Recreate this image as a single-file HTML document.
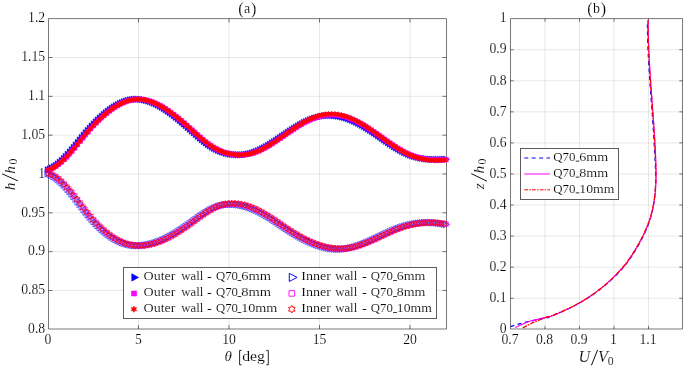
<!DOCTYPE html><html><head><meta charset="utf-8"><style>html,body{margin:0;padding:0;background:#fff;width:685px;height:368px;overflow:hidden}svg{display:block;will-change:transform}text{font-family:"Liberation Serif",serif;fill:#000;stroke:#fff;stroke-width:0.15px}.i{font-style:italic}</style></head><body>
<svg width="685" height="368" viewBox="0 0 685 368">
<path d="M138.50,18.60V329.00M229.00,18.60V329.00M319.50,18.60V329.00M410.00,18.60V329.00M48.50,290.47H446.50M48.50,251.64H446.50M48.50,212.81H446.50M48.50,173.98H446.50M48.50,135.16H446.50M48.50,96.33H446.50M48.50,57.50H446.50M545.00,18.60V329.00M579.50,18.60V329.00M614.00,18.60V329.00M648.50,18.60V329.00M510.50,298.24H682.50M510.50,267.17H682.50M510.50,236.11H682.50M510.50,205.05H682.50M510.50,173.99H682.50M510.50,142.92H682.50M510.50,111.86H682.50M510.50,80.80H682.50M510.50,49.73H682.50" stroke="#262626" stroke-opacity="0.107" stroke-width="1" fill="none"/>
<path d="M48.50,18.60H446.50V329.00H48.50ZM510.50,18.60H682.50V329.00H510.50ZM138.50,18.60v4.0M138.50,329.00v-4.0M229.00,18.60v4.0M229.00,329.00v-4.0M319.50,18.60v4.0M319.50,329.00v-4.0M410.00,18.60v4.0M410.00,329.00v-4.0M48.50,290.47h4.0M446.50,290.47h-4.0M48.50,251.64h4.0M446.50,251.64h-4.0M48.50,212.81h4.0M446.50,212.81h-4.0M48.50,173.98h4.0M446.50,173.98h-4.0M48.50,135.16h4.0M446.50,135.16h-4.0M48.50,96.33h4.0M446.50,96.33h-4.0M48.50,57.50h4.0M446.50,57.50h-4.0M545.00,18.60v3.2M545.00,329.00v-3.2M579.50,18.60v3.2M579.50,329.00v-3.2M614.00,18.60v3.2M614.00,329.00v-3.2M648.50,18.60v3.2M648.50,329.00v-3.2M510.50,298.24h3.2M682.50,298.24h-3.2M510.50,267.17h3.2M682.50,267.17h-3.2M510.50,236.11h3.2M682.50,236.11h-3.2M510.50,205.05h3.2M682.50,205.05h-3.2M510.50,173.99h3.2M682.50,173.99h-3.2M510.50,142.92h3.2M682.50,142.92h-3.2M510.50,111.86h3.2M682.50,111.86h-3.2M510.50,80.80h3.2M682.50,80.80h-3.2M510.50,49.73h3.2M682.50,49.73h-3.2" stroke="#262626" stroke-width="1" fill="none" stroke-opacity="0.62"/>
<path fill="#0000ff" stroke="#0000ff" stroke-width="0.5" d="M45.10 166.66L51.20 169.96L45.10 173.26ZM47.10 165.77L53.20 169.07L47.10 172.37ZM49.10 164.73L55.20 168.03L49.10 171.33ZM51.10 163.54L57.20 166.84L51.10 170.14ZM53.11 162.19L59.21 165.49L53.11 168.79ZM55.11 160.70L61.21 164.00L55.11 167.30ZM57.11 159.05L63.21 162.35L57.11 165.65ZM59.11 157.26L65.21 160.56L59.11 163.86ZM61.11 155.33L67.21 158.63L61.11 161.93ZM63.11 153.28L69.21 156.58L63.11 159.88ZM65.12 151.12L71.22 154.42L65.12 157.72ZM67.12 148.87L73.22 152.17L67.12 155.47ZM69.12 146.55L75.22 149.85L69.12 153.15ZM71.12 144.16L77.22 147.46L71.12 150.76ZM73.12 141.73L79.22 145.03L73.12 148.33ZM75.12 139.28L81.22 142.58L75.12 145.88ZM77.12 136.81L83.22 140.11L77.12 143.41ZM79.13 134.36L85.23 137.66L79.13 140.96ZM81.13 131.93L87.23 135.23L81.13 138.53ZM83.13 129.55L89.23 132.85L83.13 136.15ZM85.13 127.23L91.23 130.53L85.13 133.83ZM87.13 124.98L93.23 128.28L87.13 131.58ZM89.13 122.81L95.23 126.11L89.13 129.41ZM91.13 120.72L97.23 124.02L91.13 127.32ZM93.14 118.68L99.24 121.98L93.14 125.28ZM95.14 116.72L101.24 120.02L95.14 123.32ZM97.14 114.82L103.24 118.12L97.14 121.42ZM99.14 113.00L105.24 116.30L99.14 119.60ZM101.14 111.25L107.24 114.55L101.14 117.85ZM103.14 109.58L109.24 112.88L103.14 116.18ZM105.15 108.00L111.25 111.30L105.15 114.60ZM107.15 106.50L113.25 109.80L107.15 113.10ZM109.15 105.08L115.25 108.38L109.15 111.68ZM111.15 103.76L117.25 107.06L111.15 110.36ZM113.15 102.53L119.25 105.83L113.15 109.13ZM115.15 101.39L121.25 104.69L115.15 107.99ZM117.15 100.35L123.25 103.65L117.15 106.95ZM119.16 99.42L125.26 102.72L119.16 106.02ZM121.16 98.59L127.26 101.89L121.16 105.19ZM123.16 97.87L129.26 101.17L123.16 104.47ZM125.16 97.25L131.26 100.55L125.16 103.85ZM127.16 96.75L133.26 100.05L127.16 103.35ZM129.16 96.37L135.26 99.67L129.16 102.97ZM131.16 96.11L137.26 99.41L131.16 102.71ZM133.17 95.96L139.27 99.26L133.17 102.56ZM135.17 95.95L141.27 99.25L135.17 102.55ZM137.17 96.05L143.27 99.35L137.17 102.65ZM139.17 96.27L145.27 99.57L139.17 102.87ZM141.17 96.60L147.27 99.90L141.17 103.20ZM143.17 97.04L149.27 100.34L143.17 103.64ZM145.18 97.58L151.28 100.88L145.18 104.18ZM147.18 98.23L153.28 101.53L147.18 104.83ZM149.18 98.97L155.28 102.27L149.18 105.57ZM151.18 99.80L157.28 103.10L151.18 106.40ZM153.18 100.73L159.28 104.03L153.18 107.33ZM155.18 101.73L161.28 105.03L155.18 108.33ZM157.18 102.82L163.28 106.12L157.18 109.42ZM159.19 103.98L165.29 107.28L159.19 110.58ZM161.19 105.21L167.29 108.51L161.19 111.81ZM163.19 106.51L169.29 109.81L163.19 113.11ZM165.19 107.87L171.29 111.17L165.19 114.47ZM167.19 109.29L173.29 112.59L167.19 115.89ZM169.19 110.76L175.29 114.06L169.19 117.36ZM171.19 112.29L177.29 115.59L171.19 118.89ZM173.20 113.86L179.30 117.16L173.20 120.46ZM175.20 115.48L181.30 118.78L175.20 122.08ZM177.20 117.13L183.30 120.43L177.20 123.73ZM179.20 118.82L185.30 122.12L179.20 125.42ZM181.20 120.54L187.30 123.84L181.20 127.14ZM183.20 122.28L189.30 125.58L183.20 128.88ZM185.21 124.04L191.31 127.34L185.21 130.64ZM187.21 125.83L193.31 129.13L187.21 132.43ZM189.21 127.62L195.31 130.92L189.21 134.22ZM191.21 129.42L197.31 132.72L191.21 136.02ZM193.21 131.21L199.31 134.51L193.21 137.81ZM195.21 132.98L201.31 136.28L195.21 139.58ZM197.21 134.72L203.31 138.02L197.21 141.32ZM199.22 136.41L205.32 139.71L199.22 143.01ZM201.22 138.04L207.32 141.34L201.22 144.64ZM203.22 139.61L209.32 142.91L203.22 146.21ZM205.22 141.09L211.32 144.39L205.22 147.69ZM207.22 142.48L213.32 145.78L207.22 149.08ZM209.22 143.76L215.32 147.06L209.22 150.36ZM211.23 144.94L217.33 148.24L211.23 151.54ZM213.23 146.01L219.33 149.31L213.23 152.61ZM215.23 146.97L221.33 150.27L215.23 153.57ZM217.23 147.84L223.33 151.14L217.23 154.44ZM219.23 148.60L225.33 151.90L219.23 155.20ZM221.23 149.27L227.33 152.57L221.23 155.87ZM223.23 149.84L229.33 153.14L223.23 156.44ZM225.24 150.33L231.34 153.63L225.24 156.93ZM227.24 150.72L233.34 154.02L227.24 157.32ZM229.24 151.04L235.34 154.34L229.24 157.64ZM231.24 151.27L237.34 154.57L231.24 157.87ZM233.24 151.43L239.34 154.73L233.24 158.03ZM235.24 151.52L241.34 154.82L235.24 158.12ZM237.24 151.54L243.34 154.84L237.24 158.14ZM239.25 151.48L245.35 154.78L239.25 158.08ZM241.25 151.34L247.35 154.64L241.25 157.94ZM243.25 151.11L249.35 154.41L243.25 157.71ZM245.25 150.76L251.35 154.06L245.25 157.36ZM247.25 150.30L253.35 153.60L247.25 156.90ZM249.25 149.73L255.35 153.03L249.25 156.33ZM251.26 149.07L257.36 152.37L251.26 155.67ZM253.26 148.32L259.36 151.62L253.26 154.92ZM255.26 147.48L261.36 150.78L255.26 154.08ZM257.26 146.56L263.36 149.86L257.26 153.16ZM259.26 145.57L265.36 148.87L259.26 152.17ZM261.26 144.51L267.36 147.81L261.26 151.11ZM263.26 143.40L269.36 146.70L263.26 150.00ZM265.27 142.23L271.37 145.53L265.27 148.83ZM267.27 141.01L273.37 144.31L267.27 147.61ZM269.27 139.76L275.37 143.06L269.27 146.36ZM271.27 138.47L277.37 141.77L271.27 145.07ZM273.27 137.15L279.37 140.45L273.27 143.75ZM275.27 135.81L281.37 139.11L275.27 142.41ZM277.27 134.46L283.37 137.76L277.27 141.06ZM279.28 133.10L285.38 136.40L279.28 139.70ZM281.28 131.74L287.38 135.04L281.28 138.34ZM283.28 130.38L289.38 133.68L283.28 136.98ZM285.28 129.03L291.38 132.33L285.28 135.63ZM287.28 127.70L293.38 131.00L287.28 134.30ZM289.28 126.40L295.38 129.70L289.28 133.00ZM291.29 125.12L297.39 128.42L291.29 131.72ZM293.29 123.88L299.39 127.18L293.29 130.48ZM295.29 122.68L301.39 125.98L295.29 129.28ZM297.29 121.52L303.39 124.82L297.29 128.12ZM299.29 120.41L305.39 123.71L299.29 127.01ZM301.29 119.37L307.39 122.67L301.29 125.97ZM303.29 118.38L309.39 121.68L303.29 124.98ZM305.30 117.46L311.40 120.76L305.30 124.06ZM307.30 116.61L313.40 119.91L307.30 123.21ZM309.30 115.82L315.40 119.12L309.30 122.42ZM311.30 115.11L317.40 118.41L311.30 121.71ZM313.30 114.47L319.40 117.77L313.30 121.07ZM315.30 113.90L321.40 117.20L315.30 120.50ZM317.31 113.41L323.41 116.71L317.31 120.01ZM319.31 113.00L325.41 116.30L319.31 119.60ZM321.31 112.67L327.41 115.97L321.31 119.27ZM323.31 112.43L329.41 115.73L323.31 119.03ZM325.31 112.27L331.41 115.57L325.31 118.87ZM327.31 112.20L333.41 115.50L327.31 118.80ZM329.31 112.22L335.41 115.52L329.31 118.82ZM331.32 112.33L337.42 115.63L331.32 118.93ZM333.32 112.53L339.42 115.83L333.32 119.13ZM335.32 112.82L341.42 116.12L335.32 119.42ZM337.32 113.18L343.42 116.48L337.32 119.78ZM339.32 113.63L345.42 116.93L339.32 120.23ZM341.32 114.16L347.42 117.46L341.32 120.76ZM343.32 114.76L349.42 118.06L343.32 121.36ZM345.33 115.43L351.43 118.73L345.33 122.03ZM347.33 116.18L353.43 119.48L347.33 122.78ZM349.33 116.99L355.43 120.29L349.33 123.59ZM351.33 117.87L357.43 121.17L351.33 124.47ZM353.33 118.81L359.43 122.11L353.33 125.41ZM355.33 119.81L361.43 123.11L355.33 126.41ZM357.34 120.87L363.44 124.17L357.34 127.47ZM359.34 121.99L365.44 125.29L359.34 128.59ZM361.34 123.16L367.44 126.46L361.34 129.76ZM363.34 124.38L369.44 127.68L363.34 130.98ZM365.34 125.63L371.44 128.93L365.34 132.23ZM367.34 126.93L373.44 130.23L367.34 133.53ZM369.34 128.26L375.44 131.56L369.34 134.86ZM371.35 129.61L377.45 132.91L371.35 136.21ZM373.35 130.98L379.45 134.28L373.35 137.58ZM375.35 132.37L381.45 135.67L375.35 138.97ZM377.35 133.76L383.45 137.06L377.35 140.36ZM379.35 135.16L385.45 138.46L379.35 141.76ZM381.35 136.56L387.45 139.86L381.35 143.16ZM383.35 137.95L389.45 141.25L383.35 144.55ZM385.36 139.32L391.46 142.62L385.36 145.92ZM387.36 140.68L393.46 143.98L387.36 147.28ZM389.36 142.00L395.46 145.30L389.36 148.60ZM391.36 143.29L397.46 146.59L391.36 149.89ZM393.36 144.55L399.46 147.85L393.36 151.15ZM395.36 145.75L401.46 149.05L395.36 152.35ZM397.37 146.91L403.47 150.21L397.37 153.51ZM399.37 148.00L405.47 151.30L399.37 154.60ZM401.37 149.03L407.47 152.33L401.37 155.63ZM403.37 150.00L409.47 153.30L403.37 156.60ZM405.37 150.88L411.47 154.18L405.37 157.48ZM407.37 151.69L413.47 154.99L407.37 158.29ZM409.37 152.42L415.47 155.72L409.37 159.02ZM411.38 153.07L417.48 156.37L411.38 159.67ZM413.38 153.65L419.48 156.95L413.38 160.25ZM415.38 154.16L421.48 157.46L415.38 160.76ZM417.38 154.61L423.48 157.91L417.38 161.21ZM419.38 154.99L425.48 158.29L419.38 161.59ZM421.38 155.32L427.48 158.62L421.38 161.92ZM423.38 155.59L429.48 158.89L423.38 162.19ZM425.39 155.81L431.49 159.11L425.39 162.41ZM427.39 155.98L433.49 159.28L427.39 162.58ZM429.39 156.11L435.49 159.41L429.39 162.71ZM431.39 156.20L437.49 159.50L431.39 162.80ZM433.39 156.24L439.49 159.54L433.39 162.84ZM435.39 156.24L441.49 159.54L435.39 162.84ZM437.40 156.21L443.50 159.51L437.40 162.81ZM439.40 156.13L445.50 159.43L439.40 162.73ZM441.40 156.02L447.50 159.32L441.40 162.62ZM443.40 155.88L449.50 159.18L443.40 162.48Z"/>
<path fill="#ff00ff" stroke="#ff00ff" stroke-width="0.5" d="M45.70 168.04L50.30 168.04L50.30 172.64L45.70 172.64ZM48.37 166.93L52.97 166.93L52.97 171.53L48.37 171.53ZM51.04 165.54L55.64 165.54L55.64 170.14L51.04 170.14ZM53.71 163.88L58.31 163.88L58.31 168.48L53.71 168.48ZM56.38 161.95L60.98 161.95L60.98 166.55L56.38 166.55ZM59.06 159.75L63.66 159.75L63.66 164.35L59.06 164.35ZM61.73 157.30L66.33 157.30L66.33 161.90L61.73 161.90ZM64.40 154.61L69.00 154.61L69.00 159.21L64.40 159.21ZM67.07 151.73L71.67 151.73L71.67 156.33L67.07 156.33ZM69.74 148.69L74.34 148.69L74.34 153.29L69.74 153.29ZM72.41 145.53L77.01 145.53L77.01 150.13L72.41 150.13ZM75.08 142.29L79.68 142.29L79.68 146.89L75.08 146.89ZM77.75 139.01L82.35 139.01L82.35 143.61L77.75 143.61ZM80.42 135.72L85.02 135.72L85.02 140.32L80.42 140.32ZM83.10 132.49L87.70 132.49L87.70 137.09L83.10 137.09ZM85.77 129.33L90.37 129.33L90.37 133.93L85.77 133.93ZM88.44 126.31L93.04 126.31L93.04 130.91L88.44 130.91ZM91.11 123.41L95.71 123.41L95.71 128.01L91.11 128.01ZM93.78 120.64L98.38 120.64L98.38 125.24L93.78 125.24ZM96.45 117.99L101.05 117.99L101.05 122.59L96.45 122.59ZM99.12 115.47L103.72 115.47L103.72 120.07L99.12 120.07ZM101.79 113.07L106.39 113.07L106.39 117.67L101.79 117.67ZM104.47 110.81L109.07 110.81L109.07 115.41L104.47 115.41ZM107.14 108.70L111.74 108.70L111.74 113.30L107.14 113.30ZM109.81 106.74L114.41 106.74L114.41 111.34L109.81 111.34ZM112.48 104.93L117.08 104.93L117.08 109.53L112.48 109.53ZM115.15 103.29L119.75 103.29L119.75 107.89L115.15 107.89ZM117.82 101.83L122.42 101.83L122.42 106.43L117.82 106.43ZM120.49 100.54L125.09 100.54L125.09 105.14L120.49 105.14ZM123.16 99.43L127.76 99.43L127.76 104.03L123.16 104.03ZM125.83 98.52L130.43 98.52L130.43 103.12L125.83 103.12ZM128.51 97.81L133.11 97.81L133.11 102.41L128.51 102.41ZM131.18 97.31L135.78 97.31L135.78 101.91L131.18 101.91ZM133.85 97.01L138.45 97.01L138.45 101.61L133.85 101.61ZM136.52 96.94L141.12 96.94L141.12 101.54L136.52 101.54ZM139.19 97.08L143.79 97.08L143.79 101.68L139.19 101.68ZM141.86 97.43L146.46 97.43L146.46 102.03L141.86 102.03ZM144.53 97.98L149.13 97.98L149.13 102.58L144.53 102.58ZM147.20 98.71L151.80 98.71L151.80 103.31L147.20 103.31ZM149.87 99.62L154.47 99.62L154.47 104.22L149.87 104.22ZM152.55 100.70L157.15 100.70L157.15 105.30L152.55 105.30ZM155.22 101.94L159.82 101.94L159.82 106.54L155.22 106.54ZM157.89 103.32L162.49 103.32L162.49 107.92L157.89 107.92ZM160.56 104.84L165.16 104.84L165.16 109.44L160.56 109.44ZM163.23 106.49L167.83 106.49L167.83 111.09L163.23 111.09ZM165.90 108.26L170.50 108.26L170.50 112.86L165.90 112.86ZM168.57 110.13L173.17 110.13L173.17 114.73L168.57 114.73ZM171.24 112.10L175.84 112.10L175.84 116.70L171.24 116.70ZM173.91 114.16L178.51 114.16L178.51 118.76L173.91 118.76ZM176.59 116.30L181.19 116.30L181.19 120.90L176.59 120.90ZM179.26 118.51L183.86 118.51L183.86 123.11L179.26 123.11ZM181.93 120.78L186.53 120.78L186.53 125.38L181.93 125.38ZM184.60 123.10L189.20 123.10L189.20 127.70L184.60 127.70ZM187.27 125.46L191.87 125.46L191.87 130.06L187.27 130.06ZM189.94 127.84L194.54 127.84L194.54 132.44L189.94 132.44ZM192.61 130.24L197.21 130.24L197.21 134.84L192.61 134.84ZM195.28 132.63L199.88 132.63L199.88 137.23L195.28 137.23ZM197.96 134.98L202.56 134.98L202.56 139.58L197.96 139.58ZM200.63 137.25L205.23 137.25L205.23 141.85L200.63 141.85ZM203.30 139.43L207.90 139.43L207.90 144.03L203.30 144.03ZM205.97 141.47L210.57 141.47L210.57 146.07L205.97 146.07ZM208.64 143.36L213.24 143.36L213.24 147.96L208.64 147.96ZM211.31 145.06L215.91 145.06L215.91 149.66L211.31 149.66ZM213.98 146.57L218.58 146.57L218.58 151.17L213.98 151.17ZM216.65 147.89L221.25 147.89L221.25 152.49L216.65 152.49ZM219.32 149.03L223.92 149.03L223.92 153.63L219.32 153.63ZM222.00 150.00L226.60 150.00L226.60 154.60L222.00 154.60ZM224.67 150.80L229.27 150.80L229.27 155.40L224.67 155.40ZM227.34 151.43L231.94 151.43L231.94 156.03L227.34 156.03ZM230.01 151.92L234.61 151.92L234.61 156.52L230.01 156.52ZM232.68 152.26L237.28 152.26L237.28 156.86L232.68 156.86ZM235.35 152.46L239.95 152.46L239.95 157.06L235.35 157.06ZM238.02 152.54L242.62 152.54L242.62 157.14L238.02 157.14ZM240.69 152.49L245.29 152.49L245.29 157.09L240.69 157.09ZM243.36 152.29L247.96 152.29L247.96 156.89L243.36 156.89ZM246.04 151.91L250.64 151.91L250.64 156.51L246.04 156.51ZM248.71 151.33L253.31 151.33L253.31 155.93L248.71 155.93ZM251.38 150.56L255.98 150.56L255.98 155.16L251.38 155.16ZM254.05 149.62L258.65 149.62L258.65 154.22L254.05 154.22ZM256.72 148.53L261.32 148.53L261.32 153.13L256.72 153.13ZM259.39 147.29L263.99 147.29L263.99 151.89L259.39 151.89ZM262.06 145.93L266.66 145.93L266.66 150.53L262.06 150.53ZM264.73 144.45L269.33 144.45L269.33 149.05L264.73 149.05ZM267.40 142.87L272.00 142.87L272.00 147.47L267.40 147.47ZM270.08 141.22L274.68 141.22L274.68 145.82L270.08 145.82ZM272.75 139.49L277.35 139.49L277.35 144.09L272.75 144.09ZM275.42 137.72L280.02 137.72L280.02 142.32L275.42 142.32ZM278.09 135.90L282.69 135.90L282.69 140.50L278.09 140.50ZM280.76 134.07L285.36 134.07L285.36 138.67L280.76 138.67ZM283.43 132.22L288.03 132.22L288.03 136.82L283.43 136.82ZM286.10 130.39L290.70 130.39L290.70 134.99L286.10 134.99ZM288.77 128.57L293.37 128.57L293.37 133.17L288.77 133.17ZM291.44 126.79L296.04 126.79L296.04 131.39L291.44 131.39ZM294.12 125.07L298.72 125.07L298.72 129.67L294.12 129.67ZM296.79 123.40L301.39 123.40L301.39 128.00L296.79 128.00ZM299.46 121.82L304.06 121.82L304.06 126.42L299.46 126.42ZM302.13 120.33L306.73 120.33L306.73 124.93L302.13 124.93ZM304.80 118.94L309.40 118.94L309.40 123.54L304.80 123.54ZM307.47 117.67L312.07 117.67L312.07 122.27L307.47 122.27ZM310.14 116.52L314.74 116.52L314.74 121.12L310.14 121.12ZM312.81 115.50L317.41 115.50L317.41 120.10L312.81 120.10ZM315.49 114.62L320.09 114.62L320.09 119.22L315.49 119.22ZM318.16 113.87L322.76 113.87L322.76 118.47L318.16 118.47ZM320.83 113.27L325.43 113.27L325.43 117.87L320.83 117.87ZM323.50 112.82L328.10 112.82L328.10 117.42L323.50 117.42ZM326.17 112.53L330.77 112.53L330.77 117.13L326.17 117.13ZM328.84 112.40L333.44 112.40L333.44 117.00L328.84 117.00ZM331.51 112.44L336.11 112.44L336.11 117.04L331.51 117.04ZM334.18 112.66L338.78 112.66L338.78 117.26L334.18 117.26ZM336.85 113.04L341.45 113.04L341.45 117.64L336.85 117.64ZM339.53 113.57L344.13 113.57L344.13 118.17L339.53 118.17ZM342.20 114.25L346.80 114.25L346.80 118.85L342.20 118.85ZM344.87 115.08L349.47 115.08L349.47 119.68L344.87 119.68ZM347.54 116.03L352.14 116.03L352.14 120.63L347.54 120.63ZM350.21 117.12L354.81 117.12L354.81 121.72L350.21 121.72ZM352.88 118.33L357.48 118.33L357.48 122.93L352.88 122.93ZM355.55 119.65L360.15 119.65L360.15 124.25L355.55 124.25ZM358.22 121.08L362.82 121.08L362.82 125.68L358.22 125.68ZM360.89 122.61L365.49 122.61L365.49 127.21L360.89 127.21ZM363.57 124.22L368.17 124.22L368.17 128.82L363.57 128.82ZM366.24 125.92L370.84 125.92L370.84 130.52L366.24 130.52ZM368.91 127.68L373.51 127.68L373.51 132.28L368.91 132.28ZM371.58 129.49L376.18 129.49L376.18 134.09L371.58 134.09ZM374.25 131.34L378.85 131.34L378.85 135.94L374.25 135.94ZM376.92 133.22L381.52 133.22L381.52 137.82L376.92 137.82ZM379.59 135.11L384.19 135.11L384.19 139.71L379.59 139.71ZM382.26 137.00L386.86 137.00L386.86 141.60L382.26 141.60ZM384.93 138.88L389.53 138.88L389.53 143.48L384.93 143.48ZM387.61 140.73L392.21 140.73L392.21 145.33L387.61 145.33ZM390.28 142.54L394.88 142.54L394.88 147.14L390.28 147.14ZM392.95 144.29L397.55 144.29L397.55 148.89L392.95 148.89ZM395.62 145.97L400.22 145.97L400.22 150.57L395.62 150.57ZM398.29 147.57L402.89 147.57L402.89 152.17L398.29 152.17ZM400.96 149.08L405.56 149.08L405.56 153.68L400.96 153.68ZM403.63 150.47L408.23 150.47L408.23 155.07L403.63 155.07ZM406.30 151.73L410.90 151.73L410.90 156.33L406.30 156.33ZM408.98 152.86L413.58 152.86L413.58 157.46L408.98 157.46ZM411.65 153.85L416.25 153.85L416.25 158.45L411.65 158.45ZM414.32 154.71L418.92 154.71L418.92 159.31L414.32 159.31ZM416.99 155.45L421.59 155.45L421.59 160.05L416.99 160.05ZM419.66 156.06L424.26 156.06L424.26 160.66L419.66 160.66ZM422.33 156.57L426.93 156.57L426.93 161.17L422.33 161.17ZM425.00 156.97L429.60 156.97L429.60 161.57L425.00 161.57ZM427.67 157.27L432.27 157.27L432.27 161.87L427.67 161.87ZM430.34 157.48L434.94 157.48L434.94 162.08L430.34 162.08ZM433.02 157.60L437.62 157.60L437.62 162.20L433.02 162.20ZM435.69 157.64L440.29 157.64L440.29 162.24L435.69 162.24ZM438.36 157.60L442.96 157.60L442.96 162.20L438.36 162.20ZM441.03 157.48L445.63 157.48L445.63 162.08L441.03 162.08ZM443.70 157.30L448.30 157.30L448.30 161.90L443.70 161.90Z"/>
<path fill="#ff0000" stroke="#ff0000" stroke-width="0.5" d="M48.00 167.38L47.18 168.81L45.53 168.81L46.36 170.23L45.53 171.66L47.18 171.66L48.00 173.08L48.82 171.66L50.47 171.66L49.64 170.23L50.47 168.81L48.82 168.81ZM51.22 165.96L50.40 167.39L48.76 167.39L49.58 168.81L48.76 170.24L50.40 170.24L51.22 171.66L52.05 170.24L53.69 170.24L52.87 168.81L53.69 167.39L52.05 167.39ZM54.45 164.15L53.62 165.57L51.98 165.57L52.80 167.00L51.98 168.42L53.62 168.42L54.45 169.85L55.27 168.42L56.92 168.42L56.09 167.00L56.92 165.57L55.27 165.57ZM57.67 161.94L56.85 163.37L55.20 163.36L56.03 164.79L55.20 166.21L56.85 166.21L57.67 167.64L58.49 166.21L60.14 166.21L59.32 164.79L60.14 163.36L58.49 163.37ZM60.89 159.34L60.07 160.77L58.43 160.77L59.25 162.19L58.43 163.62L60.07 163.62L60.89 165.04L61.72 163.62L63.36 163.62L62.54 162.19L63.36 160.77L61.72 160.77ZM64.12 156.37L63.30 157.79L61.65 157.79L62.47 159.22L61.65 160.64L63.30 160.64L64.12 162.07L64.94 160.64L66.59 160.64L65.76 159.22L66.59 157.79L64.94 157.79ZM67.34 153.06L66.52 154.49L64.87 154.49L65.70 155.91L64.87 157.34L66.52 157.34L67.34 158.76L68.16 157.34L69.81 157.34L68.99 155.91L69.81 154.49L68.16 154.49ZM70.57 149.49L69.74 150.92L68.10 150.92L68.92 152.34L68.10 153.77L69.74 153.77L70.57 155.19L71.39 153.77L73.03 153.77L72.21 152.34L73.03 150.92L71.39 150.92ZM73.79 145.73L72.97 147.15L71.32 147.15L72.14 148.58L71.32 150.00L72.97 150.00L73.79 151.43L74.61 150.00L76.26 150.00L75.43 148.58L76.26 147.15L74.61 147.15ZM77.01 141.83L76.19 143.25L74.54 143.25L75.37 144.68L74.54 146.10L76.19 146.10L77.01 147.53L77.83 146.10L79.48 146.10L78.66 144.68L79.48 143.25L77.83 143.25ZM80.24 137.86L79.41 139.29L77.77 139.29L78.59 140.71L77.77 142.14L79.41 142.14L80.24 143.56L81.06 142.14L82.70 142.14L81.88 140.71L82.70 139.29L81.06 139.29ZM83.46 133.91L82.64 135.34L80.99 135.34L81.81 136.76L80.99 138.19L82.64 138.19L83.46 139.61L84.28 138.19L85.93 138.19L85.10 136.76L85.93 135.34L84.28 135.34ZM86.68 130.05L85.86 131.48L84.21 131.47L85.04 132.90L84.21 134.32L85.86 134.32L86.68 135.75L87.51 134.32L89.15 134.32L88.33 132.90L89.15 131.47L87.51 131.48ZM89.91 126.35L89.08 127.77L87.44 127.77L88.26 129.20L87.44 130.62L89.08 130.62L89.91 132.05L90.73 130.62L92.37 130.62L91.55 129.20L92.37 127.77L90.73 127.77ZM93.13 122.84L92.31 124.27L90.66 124.27L91.49 125.69L90.66 127.12L92.31 127.12L93.13 128.54L93.95 127.12L95.60 127.12L94.77 125.69L95.60 124.27L93.95 124.27ZM96.35 119.52L95.53 120.94L93.89 120.94L94.71 122.37L93.89 123.79L95.53 123.79L96.35 125.22L97.18 123.79L98.82 123.79L98.00 122.37L98.82 120.94L97.18 120.94ZM99.58 116.36L98.76 117.79L97.11 117.79L97.93 119.21L97.11 120.64L98.76 120.64L99.58 122.06L100.40 120.64L102.05 120.64L101.22 119.21L102.05 117.79L100.40 117.79ZM102.80 113.40L101.98 114.82L100.33 114.82L101.16 116.25L100.33 117.67L101.98 117.67L102.80 119.10L103.62 117.67L105.27 117.67L104.45 116.25L105.27 114.82L103.62 114.82ZM106.02 110.62L105.20 112.05L103.56 112.05L104.38 113.47L103.56 114.90L105.20 114.90L106.02 116.32L106.85 114.90L108.49 114.90L107.67 113.47L108.49 112.05L106.85 112.05ZM109.25 108.06L108.43 109.49L106.78 109.49L107.60 110.91L106.78 112.34L108.43 112.34L109.25 113.76L110.07 112.34L111.72 112.34L110.89 110.91L111.72 109.49L110.07 109.49ZM112.47 105.72L111.65 107.15L110.00 107.15L110.83 108.57L110.00 110.00L111.65 110.00L112.47 111.42L113.29 110.00L114.94 110.00L114.12 108.57L114.94 107.15L113.29 107.15ZM115.70 103.61L114.87 105.04L113.23 105.04L114.05 106.46L113.23 107.89L114.87 107.89L115.70 109.31L116.52 107.89L118.16 107.89L117.34 106.46L118.16 105.04L116.52 105.04ZM118.92 101.75L118.10 103.18L116.45 103.18L117.27 104.60L116.45 106.03L118.10 106.03L118.92 107.45L119.74 106.03L121.39 106.03L120.56 104.60L121.39 103.18L119.74 103.18ZM122.14 100.14L121.32 101.57L119.67 101.57L120.50 102.99L119.67 104.42L121.32 104.42L122.14 105.84L122.96 104.42L124.61 104.42L123.79 102.99L124.61 101.57L122.96 101.57ZM125.37 98.81L124.54 100.23L122.90 100.23L123.72 101.66L122.90 103.08L124.54 103.08L125.37 104.51L126.19 103.08L127.83 103.08L127.01 101.66L127.83 100.23L126.19 100.23ZM128.59 97.75L127.77 99.18L126.12 99.18L126.94 100.60L126.12 102.03L127.77 102.03L128.59 103.45L129.41 102.03L131.06 102.03L130.23 100.60L131.06 99.18L129.41 99.18ZM131.81 96.99L130.99 98.41L129.34 98.41L130.17 99.84L129.34 101.26L130.99 101.26L131.81 102.69L132.64 101.26L134.28 101.26L133.46 99.84L134.28 98.41L132.64 98.41ZM135.04 96.53L134.21 97.96L132.57 97.96L133.39 99.38L132.57 100.81L134.21 100.80L135.04 102.23L135.86 100.80L137.50 100.81L136.68 99.38L137.50 97.96L135.86 97.96ZM138.26 96.39L137.44 97.81L135.79 97.81L136.62 99.24L135.79 100.66L137.44 100.66L138.26 102.09L139.08 100.66L140.73 100.66L139.90 99.24L140.73 97.81L139.08 97.81ZM141.48 96.56L140.66 97.99L139.02 97.99L139.84 99.41L139.02 100.84L140.66 100.84L141.48 102.26L142.31 100.84L143.95 100.84L143.13 99.41L143.95 97.99L142.31 97.99ZM144.71 97.04L143.89 98.46L142.24 98.46L143.06 99.89L142.24 101.31L143.89 101.31L144.71 102.74L145.53 101.31L147.18 101.31L146.35 99.89L147.18 98.46L145.53 98.46ZM147.93 97.79L147.11 99.22L145.46 99.22L146.29 100.64L145.46 102.07L147.11 102.07L147.93 103.49L148.75 102.07L150.40 102.07L149.58 100.64L150.40 99.22L148.75 99.22ZM151.15 98.81L150.33 100.24L148.69 100.24L149.51 101.66L148.69 103.09L150.33 103.09L151.15 104.51L151.98 103.09L153.62 103.09L152.80 101.66L153.62 100.24L151.98 100.24ZM154.38 100.08L153.56 101.51L151.91 101.51L152.73 102.93L151.91 104.36L153.56 104.35L154.38 105.78L155.20 104.35L156.85 104.36L156.02 102.93L156.85 101.51L155.20 101.51ZM157.60 101.58L156.78 103.00L155.13 103.00L155.96 104.43L155.13 105.85L156.78 105.85L157.60 107.28L158.42 105.85L160.07 105.85L159.25 104.43L160.07 103.00L158.42 103.00ZM160.83 103.29L160.00 104.71L158.36 104.71L159.18 106.14L158.36 107.56L160.00 107.56L160.83 108.99L161.65 107.56L163.29 107.56L162.47 106.14L163.29 104.71L161.65 104.71ZM164.05 105.19L163.23 106.62L161.58 106.62L162.40 108.04L161.58 109.47L163.23 109.47L164.05 110.89L164.87 109.47L166.52 109.47L165.69 108.04L166.52 106.62L164.87 106.62ZM167.27 107.28L166.45 108.71L164.80 108.70L165.63 110.13L164.80 111.55L166.45 111.55L167.27 112.98L168.09 111.55L169.74 111.55L168.92 110.13L169.74 108.70L168.09 108.71ZM170.50 109.52L169.67 110.95L168.03 110.95L168.85 112.37L168.03 113.80L169.67 113.80L170.50 115.22L171.32 113.80L172.96 113.80L172.14 112.37L172.96 110.95L171.32 110.95ZM173.72 111.91L172.90 113.34L171.25 113.34L172.08 114.76L171.25 116.19L172.90 116.19L173.72 117.61L174.54 116.19L176.19 116.19L175.36 114.76L176.19 113.34L174.54 113.34ZM176.94 114.43L176.12 115.86L174.47 115.85L175.30 117.28L174.47 118.70L176.12 118.70L176.94 120.13L177.77 118.70L179.41 118.70L178.59 117.28L179.41 115.85L177.77 115.86ZM180.17 117.05L179.34 118.48L177.70 118.48L178.52 119.90L177.70 121.33L179.34 121.33L180.17 122.75L180.99 121.33L182.63 121.33L181.81 119.90L182.63 118.48L180.99 118.48ZM183.39 119.77L182.57 121.20L180.92 121.20L181.75 122.62L180.92 124.05L182.57 124.05L183.39 125.47L184.21 124.05L185.86 124.05L185.03 122.62L185.86 121.20L184.21 121.20ZM186.61 122.56L185.79 123.99L184.15 123.99L184.97 125.41L184.15 126.84L185.79 126.84L186.61 128.26L187.44 126.84L189.08 126.84L188.26 125.41L189.08 123.99L187.44 123.99ZM189.84 125.41L189.02 126.84L187.37 126.84L188.19 128.26L187.37 129.69L189.02 129.68L189.84 131.11L190.66 129.68L192.31 129.69L191.48 128.26L192.31 126.84L190.66 126.84ZM193.06 128.30L192.24 129.72L190.59 129.72L191.42 131.15L190.59 132.57L192.24 132.57L193.06 134.00L193.88 132.57L195.53 132.57L194.71 131.15L195.53 129.72L193.88 129.72ZM196.28 131.19L195.46 132.62L193.82 132.62L194.64 134.04L193.82 135.47L195.46 135.47L196.28 136.89L197.11 135.47L198.75 135.47L197.93 134.04L198.75 132.62L197.11 132.62ZM199.51 134.04L198.69 135.46L197.04 135.46L197.86 136.89L197.04 138.31L198.69 138.31L199.51 139.74L200.33 138.31L201.98 138.31L201.15 136.89L201.98 135.46L200.33 135.46ZM202.73 136.79L201.91 138.22L200.26 138.22L201.09 139.64L200.26 141.07L201.91 141.06L202.73 142.49L203.55 141.06L205.20 141.07L204.38 139.64L205.20 138.22L203.55 138.22ZM205.96 139.39L205.13 140.82L203.49 140.82L204.31 142.24L203.49 143.67L205.13 143.67L205.96 145.09L206.78 143.67L208.42 143.67L207.60 142.24L208.42 140.82L206.78 140.82ZM209.18 141.80L208.36 143.22L206.71 143.22L207.53 144.65L206.71 146.07L208.36 146.07L209.18 147.50L210.00 146.07L211.65 146.07L210.82 144.65L211.65 143.22L210.00 143.22ZM212.40 143.95L211.58 145.38L209.93 145.37L210.76 146.80L209.93 148.22L211.58 148.22L212.40 149.65L213.22 148.22L214.87 148.22L214.05 146.80L214.87 145.37L213.22 145.38ZM215.63 145.83L214.80 147.25L213.16 147.25L213.98 148.68L213.16 150.10L214.80 150.10L215.63 151.53L216.45 150.10L218.09 150.10L217.27 148.68L218.09 147.25L216.45 147.25ZM218.85 147.43L218.03 148.86L216.38 148.86L217.21 150.28L216.38 151.71L218.03 151.71L218.85 153.13L219.67 151.71L221.32 151.71L220.49 150.28L221.32 148.86L219.67 148.86ZM222.07 148.77L221.25 150.20L219.60 150.20L220.43 151.62L219.60 153.05L221.25 153.05L222.07 154.47L222.90 153.05L224.54 153.05L223.72 151.62L224.54 150.20L222.90 150.20ZM225.30 149.86L224.47 151.28L222.83 151.28L223.65 152.71L222.83 154.13L224.47 154.13L225.30 155.56L226.12 154.13L227.76 154.13L226.94 152.71L227.76 151.28L226.12 151.28ZM228.52 150.70L227.70 152.13L226.05 152.13L226.88 153.55L226.05 154.98L227.70 154.98L228.52 156.40L229.34 154.98L230.99 154.98L230.16 153.55L230.99 152.13L229.34 152.13ZM231.74 151.32L230.92 152.75L229.28 152.75L230.10 154.17L229.28 155.60L230.92 155.60L231.74 157.02L232.57 155.60L234.21 155.60L233.39 154.17L234.21 152.75L232.57 152.75ZM234.97 151.73L234.15 153.16L232.50 153.16L233.32 154.58L232.50 156.01L234.15 156.01L234.97 157.43L235.79 156.01L237.44 156.01L236.61 154.58L237.44 153.16L235.79 153.16ZM238.19 151.95L237.37 153.37L235.72 153.37L236.55 154.80L235.72 156.22L237.37 156.22L238.19 157.65L239.01 156.22L240.66 156.22L239.84 154.80L240.66 153.37L239.01 153.37ZM241.41 151.98L240.59 153.40L238.95 153.40L239.77 154.83L238.95 156.25L240.59 156.25L241.41 157.68L242.24 156.25L243.88 156.25L243.06 154.83L243.88 153.40L242.24 153.40ZM244.64 151.81L243.82 153.24L242.17 153.23L242.99 154.66L242.17 156.08L243.82 156.08L244.64 157.51L245.46 156.08L247.11 156.08L246.28 154.66L247.11 153.23L245.46 153.24ZM247.86 151.39L247.04 152.81L245.39 152.81L246.22 154.24L245.39 155.66L247.04 155.66L247.86 157.09L248.68 155.66L250.33 155.66L249.51 154.24L250.33 152.81L248.68 152.81ZM251.09 150.68L250.26 152.10L248.62 152.10L249.44 153.53L248.62 154.95L250.26 154.95L251.09 156.38L251.91 154.95L253.55 154.95L252.73 153.53L253.55 152.10L251.91 152.10ZM254.31 149.70L253.49 151.12L251.84 151.12L252.66 152.55L251.84 153.97L253.49 153.97L254.31 155.40L255.13 153.97L256.78 153.97L255.95 152.55L256.78 151.12L255.13 151.12ZM257.53 148.47L256.71 149.90L255.06 149.90L255.89 151.32L255.06 152.75L256.71 152.75L257.53 154.17L258.35 152.75L260.00 152.75L259.18 151.32L260.00 149.90L258.35 149.90ZM260.76 147.03L259.93 148.46L258.29 148.46L259.11 149.88L258.29 151.31L259.93 151.30L260.76 152.73L261.58 151.30L263.22 151.31L262.40 149.88L263.22 148.46L261.58 148.46ZM263.98 145.40L263.16 146.82L261.51 146.82L262.34 148.25L261.51 149.67L263.16 149.67L263.98 151.10L264.80 149.67L266.45 149.67L265.62 148.25L266.45 146.82L264.80 146.82ZM267.20 143.60L266.38 145.02L264.74 145.02L265.56 146.45L264.74 147.87L266.38 147.87L267.20 149.30L268.03 147.87L269.67 147.87L268.85 146.45L269.67 145.02L268.03 145.02ZM270.43 141.65L269.60 143.08L267.96 143.08L268.78 144.50L267.96 145.93L269.60 145.93L270.43 147.35L271.25 145.93L272.90 145.93L272.07 144.50L272.90 143.08L271.25 143.08ZM273.65 139.60L272.83 141.02L271.18 141.02L272.01 142.45L271.18 143.87L272.83 143.87L273.65 145.30L274.47 143.87L276.12 143.87L275.29 142.45L276.12 141.02L274.47 141.02ZM276.87 137.45L276.05 138.88L274.41 138.88L275.23 140.30L274.41 141.73L276.05 141.72L276.87 143.15L277.70 141.72L279.34 141.73L278.52 140.30L279.34 138.88L277.70 138.88ZM280.10 135.24L279.28 136.67L277.63 136.67L278.45 138.09L277.63 139.52L279.28 139.51L280.10 140.94L280.92 139.51L282.57 139.52L281.74 138.09L282.57 136.67L280.92 136.67ZM283.32 132.99L282.50 134.42L280.85 134.42L281.68 135.84L280.85 137.27L282.50 137.27L283.32 138.69L284.14 137.27L285.79 137.27L284.97 135.84L285.79 134.42L284.14 134.42ZM286.54 130.73L285.72 132.16L284.08 132.16L284.90 133.58L284.08 135.01L285.72 135.01L286.54 136.43L287.37 135.01L289.01 135.01L288.19 133.58L289.01 132.16L287.37 132.16ZM289.77 128.48L288.95 129.91L287.30 129.91L288.12 131.33L287.30 132.76L288.95 132.76L289.77 134.18L290.59 132.76L292.24 132.76L291.41 131.33L292.24 129.91L290.59 129.91ZM292.99 126.28L292.17 127.70L290.52 127.70L291.35 129.13L290.52 130.55L292.17 130.55L292.99 131.98L293.81 130.55L295.46 130.55L294.64 129.13L295.46 127.70L293.81 127.70ZM296.22 124.13L295.39 125.56L293.75 125.56L294.57 126.98L293.75 128.41L295.39 128.41L296.22 129.83L297.04 128.41L298.68 128.41L297.86 126.98L298.68 125.56L297.04 125.56ZM299.44 122.08L298.62 123.51L296.97 123.51L297.79 124.93L296.97 126.36L298.62 126.36L299.44 127.78L300.26 126.36L301.91 126.36L301.08 124.93L301.91 123.51L300.26 123.51ZM302.66 120.15L301.84 121.57L300.19 121.57L301.02 123.00L300.19 124.42L301.84 124.42L302.66 125.85L303.48 124.42L305.13 124.42L304.31 123.00L305.13 121.57L303.48 121.57ZM305.89 118.35L305.06 119.78L303.42 119.78L304.24 121.20L303.42 122.63L305.06 122.63L305.89 124.05L306.71 122.63L308.35 122.63L307.53 121.20L308.35 119.78L306.71 119.78ZM309.11 116.72L308.29 118.15L306.64 118.15L307.47 119.57L306.64 121.00L308.29 121.00L309.11 122.42L309.93 121.00L311.58 121.00L310.75 119.57L311.58 118.15L309.93 118.15ZM312.33 115.27L311.51 116.70L309.87 116.70L310.69 118.12L309.87 119.55L311.51 119.55L312.33 120.97L313.16 119.55L314.80 119.55L313.98 118.12L314.80 116.70L313.16 116.70ZM315.56 114.01L314.73 115.44L313.09 115.44L313.91 116.86L313.09 118.29L314.73 118.29L315.56 119.71L316.38 118.29L318.03 118.29L317.20 116.86L318.03 115.44L316.38 115.44ZM318.78 112.96L317.96 114.39L316.31 114.39L317.14 115.81L316.31 117.24L317.96 117.24L318.78 118.66L319.60 117.24L321.25 117.24L320.42 115.81L321.25 114.39L319.60 114.39ZM322.00 112.12L321.18 113.55L319.54 113.55L320.36 114.97L319.54 116.40L321.18 116.40L322.00 117.82L322.83 116.40L324.47 116.40L323.65 114.97L324.47 113.55L322.83 113.55ZM325.23 111.52L324.41 112.94L322.76 112.94L323.58 114.37L322.76 115.79L324.41 115.79L325.23 117.22L326.05 115.79L327.70 115.79L326.87 114.37L327.70 112.94L326.05 112.94ZM328.45 111.15L327.63 112.58L325.98 112.58L326.81 114.00L325.98 115.43L327.63 115.43L328.45 116.85L329.27 115.43L330.92 115.43L330.10 114.00L330.92 112.58L329.27 112.58ZM331.67 111.05L330.85 112.47L329.21 112.47L330.03 113.90L329.21 115.32L330.85 115.32L331.67 116.75L332.50 115.32L334.14 115.32L333.32 113.90L334.14 112.47L332.50 112.47ZM334.90 111.20L334.08 112.63L332.43 112.63L333.25 114.05L332.43 115.48L334.08 115.48L334.90 116.90L335.72 115.48L337.37 115.48L336.54 114.05L337.37 112.63L335.72 112.63ZM338.12 111.61L337.30 113.04L335.65 113.04L336.48 114.46L335.65 115.89L337.30 115.89L338.12 117.31L338.94 115.89L340.59 115.89L339.77 114.46L340.59 113.04L338.94 113.04ZM341.35 112.26L340.52 113.69L338.88 113.69L339.70 115.11L338.88 116.54L340.52 116.54L341.35 117.96L342.17 116.54L343.81 116.54L342.99 115.11L343.81 113.69L342.17 113.69ZM344.57 113.14L343.75 114.57L342.10 114.57L342.92 115.99L342.10 117.42L343.75 117.42L344.57 118.84L345.39 117.42L347.04 117.42L346.21 115.99L347.04 114.57L345.39 114.57ZM347.79 114.23L346.97 115.66L345.32 115.66L346.15 117.08L345.32 118.51L346.97 118.50L347.79 119.93L348.61 118.50L350.26 118.51L349.44 117.08L350.26 115.66L348.61 115.66ZM351.02 115.52L350.19 116.94L348.55 116.94L349.37 118.37L348.55 119.79L350.19 119.79L351.02 121.22L351.84 119.79L353.48 119.79L352.66 118.37L353.48 116.94L351.84 116.94ZM354.24 116.99L353.42 118.41L351.77 118.41L352.60 119.84L351.77 121.26L353.42 121.26L354.24 122.69L355.06 121.26L356.71 121.26L355.88 119.84L356.71 118.41L355.06 118.41ZM357.46 118.63L356.64 120.05L355.00 120.05L355.82 121.48L355.00 122.90L356.64 122.90L357.46 124.33L358.29 122.90L359.93 122.90L359.11 121.48L359.93 120.05L358.29 120.05ZM360.69 120.42L359.86 121.85L358.22 121.85L359.04 123.27L358.22 124.70L359.86 124.69L360.69 126.12L361.51 124.69L363.16 124.70L362.33 123.27L363.16 121.85L361.51 121.85ZM363.91 122.35L363.09 123.78L361.44 123.78L362.27 125.20L361.44 126.63L363.09 126.63L363.91 128.05L364.73 126.63L366.38 126.63L365.56 125.20L366.38 123.78L364.73 123.78ZM367.13 124.41L366.31 125.83L364.67 125.83L365.49 127.26L364.67 128.68L366.31 128.68L367.13 130.11L367.96 128.68L369.60 128.68L368.78 127.26L369.60 125.83L367.96 125.83ZM370.36 126.56L369.54 127.98L367.89 127.98L368.71 129.41L367.89 130.83L369.54 130.83L370.36 132.26L371.18 130.83L372.83 130.83L372.00 129.41L372.83 127.98L371.18 127.98ZM373.58 128.78L372.76 130.21L371.11 130.20L371.94 131.63L371.11 133.05L372.76 133.05L373.58 134.48L374.40 133.05L376.05 133.05L375.23 131.63L376.05 130.20L374.40 130.21ZM376.80 131.05L375.98 132.48L374.34 132.48L375.16 133.90L374.34 135.33L375.98 135.33L376.80 136.75L377.63 135.33L379.27 135.33L378.45 133.90L379.27 132.48L377.63 132.48ZM380.03 133.36L379.21 134.79L377.56 134.78L378.38 136.21L377.56 137.63L379.21 137.63L380.03 139.06L380.85 137.63L382.50 137.63L381.67 136.21L382.50 134.78L380.85 134.79ZM383.25 135.67L382.43 137.10L380.78 137.10L381.61 138.52L380.78 139.95L382.43 139.95L383.25 141.37L384.07 139.95L385.72 139.95L384.90 138.52L385.72 137.10L384.07 137.10ZM386.48 137.97L385.65 139.39L384.01 139.39L384.83 140.82L384.01 142.24L385.65 142.24L386.48 143.67L387.30 142.24L388.94 142.24L388.12 140.82L388.94 139.39L387.30 139.39ZM389.70 140.23L388.88 141.65L387.23 141.65L388.05 143.08L387.23 144.50L388.88 144.50L389.70 145.93L390.52 144.50L392.17 144.50L391.34 143.08L392.17 141.65L390.52 141.65ZM392.92 142.42L392.10 143.85L390.45 143.85L391.28 145.27L390.45 146.70L392.10 146.70L392.92 148.12L393.74 146.70L395.39 146.70L394.57 145.27L395.39 143.85L393.74 143.85ZM396.15 144.54L395.32 145.96L393.68 145.96L394.50 147.39L393.68 148.81L395.32 148.81L396.15 150.24L396.97 148.81L398.61 148.81L397.79 147.39L398.61 145.96L396.97 145.96ZM399.37 146.54L398.55 147.97L396.90 147.97L397.73 149.39L396.90 150.82L398.55 150.82L399.37 152.24L400.19 150.82L401.84 150.82L401.01 149.39L401.84 147.97L400.19 147.97ZM402.59 148.42L401.77 149.84L400.13 149.84L400.95 151.27L400.13 152.69L401.77 152.69L402.59 154.12L403.42 152.69L405.06 152.69L404.24 151.27L405.06 149.84L403.42 149.84ZM405.82 150.14L404.99 151.56L403.35 151.56L404.17 152.99L403.35 154.41L404.99 154.41L405.82 155.84L406.64 154.41L408.29 154.41L407.46 152.99L408.29 151.56L406.64 151.56ZM409.04 151.68L408.22 153.10L406.57 153.10L407.40 154.53L406.57 155.95L408.22 155.95L409.04 157.38L409.86 155.95L411.51 155.95L410.69 154.53L411.51 153.10L409.86 153.10ZM412.26 153.02L411.44 154.45L409.80 154.45L410.62 155.87L409.80 157.30L411.44 157.30L412.26 158.72L413.09 157.30L414.73 157.30L413.91 155.87L414.73 154.45L413.09 154.45ZM415.49 154.17L414.67 155.60L413.02 155.59L413.84 157.02L413.02 158.44L414.67 158.44L415.49 159.87L416.31 158.44L417.96 158.44L417.13 157.02L417.96 155.59L416.31 155.60ZM418.71 155.13L417.89 156.56L416.24 156.55L417.07 157.98L416.24 159.40L417.89 159.40L418.71 160.83L419.53 159.40L421.18 159.40L420.36 157.98L421.18 156.55L419.53 156.56ZM421.93 155.91L421.11 157.34L419.47 157.34L420.29 158.76L419.47 160.19L421.11 160.19L421.93 161.61L422.76 160.19L424.40 160.19L423.58 158.76L424.40 157.34L422.76 157.34ZM425.16 156.52L424.34 157.95L422.69 157.95L423.51 159.37L422.69 160.80L424.34 160.80L425.16 162.22L425.98 160.80L427.63 160.80L426.80 159.37L427.63 157.95L425.98 157.95ZM428.38 156.98L427.56 158.40L425.91 158.40L426.74 159.83L425.91 161.25L427.56 161.25L428.38 162.68L429.20 161.25L430.85 161.25L430.03 159.83L430.85 158.40L429.20 158.40ZM431.61 157.28L430.78 158.70L429.14 158.70L429.96 160.13L429.14 161.55L430.78 161.55L431.61 162.98L432.43 161.55L434.07 161.55L433.25 160.13L434.07 158.70L432.43 158.70ZM434.83 157.43L434.01 158.86L432.36 158.86L433.18 160.28L432.36 161.71L434.01 161.71L434.83 163.13L435.65 161.71L437.30 161.71L436.47 160.28L437.30 158.86L435.65 158.86ZM438.05 157.46L437.23 158.89L435.58 158.88L436.41 160.31L435.58 161.73L437.23 161.73L438.05 163.16L438.88 161.73L440.52 161.73L439.70 160.31L440.52 158.88L438.88 158.89ZM441.28 157.36L440.45 158.79L438.81 158.78L439.63 160.21L438.81 161.63L440.45 161.63L441.28 163.06L442.10 161.63L443.74 161.63L442.92 160.21L443.74 158.78L442.10 158.79ZM444.50 157.15L443.68 158.57L442.03 158.57L442.86 160.00L442.03 161.42L443.68 161.42L444.50 162.85L445.32 161.42L446.97 161.42L446.14 160.00L446.97 158.57L445.32 158.57Z"/>
<path fill="none" stroke="#0000ff" stroke-width="0.60" stroke-linejoin="miter" d="M44.90 170.01L51.40 173.41L44.90 176.81ZM46.90 170.79L53.40 174.19L46.90 177.59ZM48.90 171.77L55.40 175.17L48.90 178.57ZM50.90 172.95L57.40 176.35L50.90 179.75ZM52.91 174.32L59.41 177.72L52.91 181.12ZM54.91 175.86L61.41 179.26L54.91 182.66ZM56.91 177.56L63.41 180.96L56.91 184.36ZM58.91 179.42L65.41 182.82L58.91 186.22ZM60.91 181.42L67.41 184.82L60.91 188.22ZM62.91 183.55L69.41 186.95L62.91 190.35ZM64.92 185.80L71.42 189.20L64.92 192.60ZM66.92 188.15L73.42 191.55L66.92 194.95ZM68.92 190.60L75.42 194.00L68.92 197.40ZM70.92 193.11L77.42 196.51L70.92 199.91ZM72.92 195.68L79.42 199.08L72.92 202.48ZM74.92 198.28L81.42 201.68L74.92 205.08ZM76.92 200.90L83.42 204.30L76.92 207.70ZM78.93 203.51L85.43 206.91L78.93 210.31ZM80.93 206.10L87.43 209.50L80.93 212.90ZM82.93 208.64L89.43 212.04L82.93 215.44ZM84.93 211.12L91.43 214.52L84.93 217.92ZM86.93 213.53L93.43 216.93L86.93 220.33ZM88.93 215.84L95.43 219.24L88.93 222.64ZM90.93 218.05L97.43 221.45L90.93 224.85ZM92.94 220.17L99.44 223.57L92.94 226.97ZM94.94 222.19L101.44 225.59L94.94 228.99ZM96.94 224.12L103.44 227.52L96.94 230.92ZM98.94 225.95L105.44 229.35L98.94 232.75ZM100.94 227.68L107.44 231.08L100.94 234.48ZM102.94 229.32L109.44 232.72L102.94 236.12ZM104.95 230.87L111.45 234.27L104.95 237.67ZM106.95 232.31L113.45 235.71L106.95 239.11ZM108.95 233.66L115.45 237.06L108.95 240.46ZM110.95 234.91L117.45 238.31L110.95 241.71ZM112.95 236.06L119.45 239.46L112.95 242.86ZM114.95 237.12L121.45 240.52L114.95 243.92ZM116.95 238.08L123.45 241.48L116.95 244.88ZM118.96 238.94L125.46 242.34L118.96 245.74ZM120.96 239.70L127.46 243.10L120.96 246.50ZM122.96 240.36L129.46 243.76L122.96 247.16ZM124.96 240.92L131.46 244.32L124.96 247.72ZM126.96 241.39L133.46 244.79L126.96 248.19ZM128.96 241.75L135.46 245.15L128.96 248.55ZM130.96 242.02L137.46 245.42L130.96 248.82ZM132.97 242.19L139.47 245.59L132.97 248.99ZM134.97 242.27L141.47 245.67L134.97 249.07ZM136.97 242.26L143.47 245.66L136.97 249.06ZM138.97 242.16L145.47 245.56L138.97 248.96ZM140.97 241.98L147.47 245.38L140.97 248.78ZM142.97 241.71L149.47 245.11L142.97 248.51ZM144.98 241.37L151.48 244.77L144.98 248.17ZM146.98 240.95L153.48 244.35L146.98 247.75ZM148.98 240.45L155.48 243.85L148.98 247.25ZM150.98 239.88L157.48 243.28L150.98 246.68ZM152.98 239.24L159.48 242.64L152.98 246.04ZM154.98 238.54L161.48 241.94L154.98 245.34ZM156.98 237.77L163.48 241.17L156.98 244.57ZM158.99 236.94L165.49 240.34L158.99 243.74ZM160.99 236.05L167.49 239.45L160.99 242.85ZM162.99 235.10L169.49 238.50L162.99 241.90ZM164.99 234.10L171.49 237.50L164.99 240.90ZM166.99 233.04L173.49 236.44L166.99 239.84ZM168.99 231.94L175.49 235.34L168.99 238.74ZM170.99 230.80L177.49 234.20L170.99 237.60ZM173.00 229.61L179.50 233.01L173.00 236.41ZM175.00 228.37L181.50 231.77L175.00 235.17ZM177.00 227.11L183.50 230.51L177.00 233.91ZM179.00 225.80L185.50 229.20L179.00 232.60ZM181.00 224.47L187.50 227.87L181.00 231.27ZM183.00 223.10L189.50 226.50L183.00 229.90ZM185.01 221.71L191.51 225.11L185.01 228.51ZM187.01 220.30L193.51 223.70L187.01 227.10ZM189.01 218.87L195.51 222.27L189.01 225.67ZM191.01 217.42L197.51 220.82L191.01 224.22ZM193.01 215.98L199.51 219.38L193.01 222.78ZM195.01 214.55L201.51 217.95L195.01 221.35ZM197.01 213.14L203.51 216.54L197.01 219.94ZM199.02 211.77L205.52 215.17L199.02 218.57ZM201.02 210.44L207.52 213.84L201.02 217.24ZM203.02 209.16L209.52 212.56L203.02 215.96ZM205.02 207.95L211.52 211.35L205.02 214.75ZM207.02 206.81L213.52 210.21L207.02 213.61ZM209.02 205.75L215.52 209.15L209.02 212.55ZM211.03 204.79L217.53 208.19L211.03 211.59ZM213.03 203.94L219.53 207.34L213.03 210.74ZM215.03 203.19L221.53 206.59L215.03 209.99ZM217.03 202.56L223.53 205.96L217.03 209.36ZM219.03 202.03L225.53 205.43L219.03 208.83ZM221.03 201.61L227.53 205.01L221.03 208.41ZM223.03 201.29L229.53 204.69L223.03 208.09ZM225.04 201.06L231.54 204.46L225.04 207.86ZM227.04 200.93L233.54 204.33L227.04 207.73ZM229.04 200.89L235.54 204.29L229.04 207.69ZM231.04 200.94L237.54 204.34L231.04 207.74ZM233.04 201.07L239.54 204.47L233.04 207.87ZM235.04 201.29L241.54 204.69L235.04 208.09ZM237.04 201.59L243.54 204.99L237.04 208.39ZM239.05 201.97L245.55 205.37L239.05 208.77ZM241.05 202.42L247.55 205.82L241.05 209.22ZM243.05 202.95L249.55 206.35L243.05 209.75ZM245.05 203.55L251.55 206.95L245.05 210.35ZM247.05 204.23L253.55 207.63L247.05 211.03ZM249.05 204.97L255.55 208.37L249.05 211.77ZM251.06 205.78L257.56 209.18L251.06 212.58ZM253.06 206.66L259.56 210.06L253.06 213.46ZM255.06 207.60L261.56 211.00L255.06 214.40ZM257.06 208.60L263.56 212.00L257.06 215.40ZM259.06 209.66L265.56 213.06L259.06 216.46ZM261.06 210.77L267.56 214.17L261.06 217.57ZM263.06 211.94L269.56 215.34L263.06 218.74ZM265.07 213.15L271.57 216.55L265.07 219.95ZM267.07 214.40L273.57 217.80L267.07 221.20ZM269.07 215.68L275.57 219.08L269.07 222.48ZM271.07 216.99L277.57 220.39L271.07 223.79ZM273.07 218.32L279.57 221.72L273.07 225.12ZM275.07 219.67L281.57 223.07L275.07 226.47ZM277.07 221.02L283.57 224.42L277.07 227.82ZM279.08 222.37L285.58 225.77L279.08 229.17ZM281.08 223.71L287.58 227.11L281.08 230.51ZM283.08 225.05L289.58 228.45L283.08 231.85ZM285.08 226.36L291.58 229.76L285.08 233.16ZM287.08 227.65L293.58 231.05L287.08 234.45ZM289.08 228.91L295.58 232.31L289.08 235.71ZM291.09 230.14L297.59 233.54L291.09 236.94ZM293.09 231.33L299.59 234.73L293.09 238.13ZM295.09 232.49L301.59 235.89L295.09 239.29ZM297.09 233.61L303.59 237.01L297.09 240.41ZM299.09 234.69L305.59 238.09L299.09 241.49ZM301.09 235.74L307.59 239.14L301.09 242.54ZM303.09 236.74L309.59 240.14L303.09 243.54ZM305.10 237.70L311.60 241.10L305.10 244.50ZM307.10 238.62L313.60 242.02L307.10 245.42ZM309.10 239.49L315.60 242.89L309.10 246.29ZM311.10 240.31L317.60 243.71L311.10 247.11ZM313.10 241.08L319.60 244.48L313.10 247.88ZM315.10 241.80L321.60 245.20L315.10 248.60ZM317.11 242.47L323.61 245.87L317.11 249.27ZM319.11 243.09L325.61 246.49L319.11 249.89ZM321.11 243.64L327.61 247.04L321.11 250.44ZM323.11 244.14L329.61 247.54L323.11 250.94ZM325.11 244.57L331.61 247.97L325.11 251.37ZM327.11 244.94L333.61 248.34L327.11 251.74ZM329.11 245.24L335.61 248.64L329.11 252.04ZM331.12 245.48L337.62 248.88L331.12 252.28ZM333.12 245.64L339.62 249.04L333.12 252.44ZM335.12 245.73L341.62 249.13L335.12 252.53ZM337.12 245.75L343.62 249.15L337.12 252.55ZM339.12 245.70L345.62 249.10L339.12 252.50ZM341.12 245.57L347.62 248.97L341.12 252.37ZM343.12 245.36L349.62 248.76L343.12 252.16ZM345.13 245.07L351.63 248.47L345.13 251.87ZM347.13 244.70L353.63 248.10L347.13 251.50ZM349.13 244.26L355.63 247.66L349.13 251.06ZM351.13 243.75L357.63 247.15L351.13 250.55ZM353.13 243.17L359.63 246.57L353.13 249.97ZM355.13 242.53L361.63 245.93L355.13 249.33ZM357.14 241.84L363.64 245.24L357.14 248.64ZM359.14 241.09L365.64 244.49L359.14 247.89ZM361.14 240.31L367.64 243.71L361.14 247.11ZM363.14 239.48L369.64 242.88L363.14 246.28ZM365.14 238.63L371.64 242.03L365.14 245.43ZM367.14 237.74L373.64 241.14L367.14 244.54ZM369.14 236.84L375.64 240.24L369.14 243.64ZM371.15 235.91L377.65 239.31L371.15 242.71ZM373.15 234.97L379.65 238.37L373.15 241.77ZM375.15 234.02L381.65 237.42L375.15 240.82ZM377.15 233.07L383.65 236.47L377.15 239.87ZM379.15 232.12L385.65 235.52L379.15 238.92ZM381.15 231.18L387.65 234.58L381.15 237.98ZM383.15 230.25L389.65 233.65L383.15 237.05ZM385.16 229.33L391.66 232.73L385.16 236.13ZM387.16 228.43L393.66 231.83L387.16 235.23ZM389.16 227.56L395.66 230.96L389.16 234.36ZM391.16 226.71L397.66 230.11L391.16 233.51ZM393.16 225.90L399.66 229.30L393.16 232.70ZM395.16 225.12L401.66 228.52L395.16 231.92ZM397.17 224.39L403.67 227.79L397.17 231.19ZM399.17 223.70L405.67 227.10L399.17 230.50ZM401.17 223.07L407.67 226.47L401.17 229.87ZM403.17 222.48L409.67 225.88L403.17 229.28ZM405.17 221.94L411.67 225.34L405.17 228.74ZM407.17 221.44L413.67 224.84L407.17 228.24ZM409.17 221.00L415.67 224.40L409.17 227.80ZM411.18 220.60L417.68 224.00L411.18 227.40ZM413.18 220.26L419.68 223.66L413.18 227.06ZM415.18 219.96L421.68 223.36L415.18 226.76ZM417.18 219.71L423.68 223.11L417.18 226.51ZM419.18 219.51L425.68 222.91L419.18 226.31ZM421.18 219.36L427.68 222.76L421.18 226.16ZM423.18 219.25L429.68 222.65L423.18 226.05ZM425.19 219.20L431.69 222.60L425.19 226.00ZM427.19 219.20L433.69 222.60L427.19 226.00ZM429.19 219.25L435.69 222.65L429.19 226.05ZM431.19 219.34L437.69 222.74L431.19 226.14ZM433.19 219.49L439.69 222.89L433.19 226.29ZM435.19 219.69L441.69 223.09L435.19 226.49ZM437.20 219.93L443.70 223.33L437.20 226.73ZM439.20 220.23L445.70 223.63L439.20 227.03ZM441.20 220.58L447.70 223.98L441.20 227.38ZM443.20 220.98L449.70 224.38L443.20 227.78Z"/>
<path fill="none" stroke="#ff00ff" stroke-width="0.50" stroke-linejoin="miter" d="M45.50 170.61L50.50 170.61L50.50 175.61L45.50 175.61ZM48.17 171.54L53.17 171.54L53.17 176.54L48.17 176.54ZM50.84 172.86L55.84 172.86L55.84 177.86L50.84 177.86ZM53.51 174.52L58.51 174.52L58.51 179.52L53.51 179.52ZM56.18 176.50L61.18 176.50L61.18 181.50L56.18 181.50ZM58.86 178.78L63.86 178.78L63.86 183.78L58.86 183.78ZM61.53 181.32L66.53 181.32L66.53 186.32L61.53 186.32ZM64.20 184.11L69.20 184.11L69.20 189.11L64.20 189.11ZM66.87 187.11L71.87 187.11L71.87 192.11L66.87 192.11ZM69.54 190.29L74.54 190.29L74.54 195.29L69.54 195.29ZM72.21 193.62L77.21 193.62L77.21 198.62L72.21 198.62ZM74.88 197.05L79.88 197.05L79.88 202.05L74.88 202.05ZM77.55 200.53L82.55 200.53L82.55 205.53L77.55 205.53ZM80.22 204.02L85.22 204.02L85.22 209.02L80.22 209.02ZM82.90 207.47L87.90 207.47L87.90 212.47L82.90 212.47ZM85.57 210.84L90.57 210.84L90.57 215.84L85.57 215.84ZM88.24 214.08L93.24 214.08L93.24 219.08L88.24 219.08ZM90.91 217.16L95.91 217.16L95.91 222.16L90.91 222.16ZM93.58 220.07L98.58 220.07L98.58 225.07L93.58 225.07ZM96.25 222.81L101.25 222.81L101.25 227.81L96.25 227.81ZM98.92 225.38L103.92 225.38L103.92 230.38L98.92 230.38ZM101.59 227.77L106.59 227.77L106.59 232.77L101.59 232.77ZM104.27 230.00L109.27 230.00L109.27 235.00L104.27 235.00ZM106.94 232.06L111.94 232.06L111.94 237.06L106.94 237.06ZM109.61 233.94L114.61 233.94L114.61 238.94L109.61 238.94ZM112.28 235.65L117.28 235.65L117.28 240.65L112.28 240.65ZM114.95 237.18L119.95 237.18L119.95 242.18L114.95 242.18ZM117.62 238.54L122.62 238.54L122.62 243.54L117.62 243.54ZM120.29 239.73L125.29 239.73L125.29 244.73L120.29 244.73ZM122.96 240.74L127.96 240.74L127.96 245.74L122.96 245.74ZM125.63 241.57L130.63 241.57L130.63 246.57L125.63 246.57ZM128.31 242.23L133.31 242.23L133.31 247.23L128.31 247.23ZM130.98 242.71L135.98 242.71L135.98 247.71L130.98 247.71ZM133.65 243.02L138.65 243.02L138.65 248.02L133.65 248.02ZM136.32 243.16L141.32 243.16L141.32 248.16L136.32 248.16ZM138.99 243.14L143.99 243.14L143.99 248.14L138.99 248.14ZM141.66 242.97L146.66 242.97L146.66 247.97L141.66 247.97ZM144.33 242.65L149.33 242.65L149.33 247.65L144.33 247.65ZM147.00 242.18L152.00 242.18L152.00 247.18L147.00 247.18ZM149.67 241.58L154.67 241.58L154.67 246.58L149.67 246.58ZM152.35 240.85L157.35 240.85L157.35 245.85L152.35 245.85ZM155.02 239.99L160.02 239.99L160.02 244.99L155.02 244.99ZM157.69 239.02L162.69 239.02L162.69 244.02L157.69 244.02ZM160.36 237.93L165.36 237.93L165.36 242.93L160.36 242.93ZM163.03 236.74L168.03 236.74L168.03 241.74L163.03 241.74ZM165.70 235.44L170.70 235.44L170.70 240.44L165.70 240.44ZM168.37 234.06L173.37 234.06L173.37 239.06L168.37 239.06ZM171.04 232.58L176.04 232.58L176.04 237.58L171.04 237.58ZM173.71 231.02L178.71 231.02L178.71 236.02L173.71 236.02ZM176.39 229.39L181.39 229.39L181.39 234.39L176.39 234.39ZM179.06 227.69L184.06 227.69L184.06 232.69L179.06 232.69ZM181.73 225.92L186.73 225.92L186.73 230.92L181.73 230.92ZM184.40 224.10L189.40 224.10L189.40 229.10L184.40 229.10ZM187.07 222.23L192.07 222.23L192.07 227.23L187.07 227.23ZM189.74 220.32L194.74 220.32L194.74 225.32L189.74 225.32ZM192.41 218.37L197.41 218.37L197.41 223.37L192.41 223.37ZM195.08 216.43L200.08 216.43L200.08 221.43L195.08 221.43ZM197.76 214.50L202.76 214.50L202.76 219.50L197.76 219.50ZM200.43 212.63L205.43 212.63L205.43 217.63L200.43 217.63ZM203.10 210.82L208.10 210.82L208.10 215.82L203.10 215.82ZM205.77 209.11L210.77 209.11L210.77 214.11L205.77 214.11ZM208.44 207.53L213.44 207.53L213.44 212.53L208.44 212.53ZM211.11 206.09L216.11 206.09L216.11 211.09L211.11 211.09ZM213.78 204.83L218.78 204.83L218.78 209.83L213.78 209.83ZM216.45 203.76L221.45 203.76L221.45 208.76L216.45 208.76ZM219.12 202.90L224.12 202.90L224.12 207.90L219.12 207.90ZM221.80 202.22L226.80 202.22L226.80 207.22L221.80 207.22ZM224.47 201.73L229.47 201.73L229.47 206.73L224.47 206.73ZM227.14 201.43L232.14 201.43L232.14 206.43L227.14 206.43ZM229.81 201.29L234.81 201.29L234.81 206.29L229.81 206.29ZM232.48 201.33L237.48 201.33L237.48 206.33L232.48 206.33ZM235.15 201.52L240.15 201.52L240.15 206.52L235.15 206.52ZM237.82 201.88L242.82 201.88L242.82 206.88L237.82 206.88ZM240.49 202.38L245.49 202.38L245.49 207.38L240.49 207.38ZM243.16 203.02L248.16 203.02L248.16 208.02L243.16 208.02ZM245.84 203.80L250.84 203.80L250.84 208.80L245.84 208.80ZM248.51 204.71L253.51 204.71L253.51 209.71L248.51 209.71ZM251.18 205.75L256.18 205.75L256.18 210.75L251.18 210.75ZM253.85 206.91L258.85 206.91L258.85 211.91L253.85 211.91ZM256.52 208.18L261.52 208.18L261.52 213.18L256.52 213.18ZM259.19 209.56L264.19 209.56L264.19 214.56L259.19 214.56ZM261.86 211.04L266.86 211.04L266.86 216.04L261.86 216.04ZM264.53 212.61L269.53 212.61L269.53 217.61L264.53 217.61ZM267.20 214.26L272.20 214.26L272.20 219.26L267.20 219.26ZM269.88 215.97L274.88 215.97L274.88 220.97L269.88 220.97ZM272.55 217.73L277.55 217.73L277.55 222.73L272.55 222.73ZM275.22 219.53L280.22 219.53L280.22 224.53L275.22 224.53ZM277.89 221.34L282.89 221.34L282.89 226.34L277.89 226.34ZM280.56 223.15L285.56 223.15L285.56 228.15L280.56 228.15ZM283.23 224.95L288.23 224.95L288.23 229.95L283.23 229.95ZM285.90 226.72L290.90 226.72L290.90 231.72L285.90 231.72ZM288.57 228.45L293.57 228.45L293.57 233.45L288.57 233.45ZM291.24 230.12L296.24 230.12L296.24 235.12L291.24 235.12ZM293.92 231.74L298.92 231.74L298.92 236.74L293.92 236.74ZM296.59 233.29L301.59 233.29L301.59 238.29L296.59 238.29ZM299.26 234.77L304.26 234.77L304.26 239.77L299.26 239.77ZM301.93 236.18L306.93 236.18L306.93 241.18L301.93 241.18ZM304.60 237.51L309.60 237.51L309.60 242.51L304.60 242.51ZM307.27 238.77L312.27 238.77L312.27 243.77L307.27 243.77ZM309.94 239.95L314.94 239.95L314.94 244.95L309.94 244.95ZM312.61 241.04L317.61 241.04L317.61 246.04L312.61 246.04ZM315.29 242.04L320.29 242.04L320.29 247.04L315.29 247.04ZM317.96 242.95L322.96 242.95L322.96 247.95L317.96 247.95ZM320.63 243.76L325.63 243.76L325.63 248.76L320.63 248.76ZM323.30 244.47L328.30 244.47L328.30 249.47L323.30 249.47ZM325.97 245.07L330.97 245.07L330.97 250.07L325.97 250.07ZM328.64 245.56L333.64 245.56L333.64 250.56L328.64 250.56ZM331.31 245.94L336.31 245.94L336.31 250.94L331.31 250.94ZM333.98 246.20L338.98 246.20L338.98 251.20L333.98 251.20ZM336.65 246.33L341.65 246.33L341.65 251.33L336.65 251.33ZM339.33 246.34L344.33 246.34L344.33 251.34L339.33 251.34ZM342.00 246.22L347.00 246.22L347.00 251.22L342.00 251.22ZM344.67 245.97L349.67 245.97L349.67 250.97L344.67 250.97ZM347.34 245.58L352.34 245.58L352.34 250.58L347.34 250.58ZM350.01 245.06L355.01 245.06L355.01 250.06L350.01 250.06ZM352.68 244.41L357.68 244.41L357.68 249.41L352.68 249.41ZM355.35 243.65L360.35 243.65L360.35 248.65L355.35 248.65ZM358.02 242.78L363.02 242.78L363.02 247.78L358.02 247.78ZM360.69 241.83L365.69 241.83L365.69 246.83L360.69 246.83ZM363.37 240.79L368.37 240.79L368.37 245.79L363.37 245.79ZM366.04 239.70L371.04 239.70L371.04 244.70L366.04 244.70ZM368.71 238.54L373.71 238.54L373.71 243.54L368.71 243.54ZM371.38 237.35L376.38 237.35L376.38 242.35L371.38 242.35ZM374.05 236.12L379.05 236.12L379.05 241.12L374.05 241.12ZM376.72 234.87L381.72 234.87L381.72 239.87L376.72 239.87ZM379.39 233.62L384.39 233.62L384.39 238.62L379.39 238.62ZM382.06 232.37L387.06 232.37L387.06 237.37L382.06 237.37ZM384.73 231.13L389.73 231.13L389.73 236.13L384.73 236.13ZM387.41 229.91L392.41 229.91L392.41 234.91L387.41 234.91ZM390.08 228.73L395.08 228.73L395.08 233.73L390.08 233.73ZM392.75 227.60L397.75 227.60L397.75 232.60L392.75 232.60ZM395.42 226.53L400.42 226.53L400.42 231.53L395.42 231.53ZM398.09 225.53L403.09 225.53L403.09 230.53L398.09 230.53ZM400.76 224.60L405.76 224.60L405.76 229.60L400.76 229.60ZM403.43 223.76L408.43 223.76L408.43 228.76L403.43 228.76ZM406.10 223.01L411.10 223.01L411.10 228.01L406.10 228.01ZM408.78 222.34L413.78 222.34L413.78 227.34L408.78 227.34ZM411.45 221.76L416.45 221.76L416.45 226.76L411.45 226.76ZM414.12 221.26L419.12 221.26L419.12 226.26L414.12 226.26ZM416.79 220.86L421.79 220.86L421.79 225.86L416.79 225.86ZM419.46 220.53L424.46 220.53L424.46 225.53L419.46 225.53ZM422.13 220.30L427.13 220.30L427.13 225.30L422.13 225.30ZM424.80 220.15L429.80 220.15L429.80 225.15L424.80 225.15ZM427.47 220.10L432.47 220.10L432.47 225.10L427.47 225.10ZM430.14 220.13L435.14 220.13L435.14 225.13L430.14 225.13ZM432.82 220.24L437.82 220.24L437.82 225.24L432.82 225.24ZM435.49 220.45L440.49 220.45L440.49 225.45L435.49 225.45ZM438.16 220.75L443.16 220.75L443.16 225.75L438.16 225.75ZM440.83 221.13L445.83 221.13L445.83 226.13L440.83 226.13ZM443.50 221.61L448.50 221.61L448.50 226.61L443.50 226.61Z"/>
<path fill="none" stroke="#ff0000" stroke-width="0.70" stroke-linejoin="miter" d="M48.00 169.89L47.05 171.54L45.14 171.54L46.10 173.19L45.14 174.84L47.05 174.84L48.00 176.49L48.95 174.84L50.86 174.84L49.90 173.19L50.86 171.54L48.95 171.54ZM51.22 171.12L50.27 172.77L48.37 172.77L49.32 174.42L48.37 176.07L50.27 176.07L51.22 177.72L52.18 176.07L54.08 176.07L53.13 174.42L54.08 172.77L52.18 172.77ZM54.45 172.89L53.50 174.54L51.59 174.54L52.54 176.19L51.59 177.84L53.50 177.84L54.45 179.49L55.40 177.84L57.31 177.84L56.35 176.19L57.31 174.54L55.40 174.54ZM57.67 175.14L56.72 176.79L54.81 176.79L55.77 178.44L54.81 180.09L56.72 180.09L57.67 181.74L58.62 180.09L60.53 180.09L59.57 178.44L60.53 176.79L58.62 176.79ZM60.89 177.83L59.94 179.48L58.04 179.48L58.99 181.13L58.04 182.78L59.94 182.78L60.89 184.43L61.85 182.78L63.75 182.78L62.80 181.13L63.75 179.48L61.85 179.48ZM64.12 180.91L63.17 182.57L61.26 182.56L62.21 184.21L61.26 185.86L63.17 185.86L64.12 187.51L65.07 185.86L66.98 185.86L66.02 184.21L66.98 182.56L65.07 182.57ZM67.34 184.34L66.39 186.00L64.48 185.99L65.44 187.64L64.48 189.29L66.39 189.29L67.34 190.94L68.29 189.29L70.20 189.29L69.25 187.64L70.20 185.99L68.29 186.00ZM70.57 188.07L69.61 189.72L67.71 189.72L68.66 191.37L67.71 193.02L69.61 193.02L70.57 194.67L71.52 193.02L73.42 193.02L72.47 191.37L73.42 189.72L71.52 189.72ZM73.79 192.04L72.84 193.69L70.93 193.69L71.88 195.34L70.93 196.99L72.84 196.98L73.79 198.64L74.74 196.98L76.65 196.99L75.69 195.34L76.65 193.69L74.74 193.69ZM77.01 196.16L76.06 197.81L74.15 197.81L75.11 199.46L74.15 201.11L76.06 201.11L77.01 202.76L77.96 201.11L79.87 201.11L78.92 199.46L79.87 197.81L77.96 197.81ZM80.24 200.36L79.28 202.01L77.38 202.01L78.33 203.66L77.38 205.31L79.28 205.31L80.24 206.96L81.19 205.31L83.09 205.31L82.14 203.66L83.09 202.01L81.19 202.01ZM83.46 204.56L82.51 206.21L80.60 206.21L81.56 207.86L80.60 209.51L82.51 209.51L83.46 211.16L84.41 209.51L86.32 209.51L85.36 207.86L86.32 206.21L84.41 206.21ZM86.68 208.68L85.73 210.33L83.83 210.33L84.78 211.98L83.83 213.63L85.73 213.63L86.68 215.28L87.63 213.63L89.54 213.63L88.59 211.98L89.54 210.33L87.63 210.33ZM89.91 212.65L88.95 214.30L87.05 214.30L88.00 215.95L87.05 217.60L88.95 217.60L89.91 219.25L90.86 217.60L92.76 217.60L91.81 215.95L92.76 214.30L90.86 214.30ZM93.13 216.38L92.18 218.03L90.27 218.03L91.23 219.68L90.27 221.33L92.18 221.33L93.13 222.98L94.08 221.33L95.99 221.33L95.03 219.68L95.99 218.03L94.08 218.03ZM96.35 219.87L95.40 221.52L93.50 221.52L94.45 223.17L93.50 224.82L95.40 224.82L96.35 226.47L97.31 224.82L99.21 224.82L98.26 223.17L99.21 221.52L97.31 221.52ZM99.58 223.11L98.63 224.76L96.72 224.76L97.67 226.41L96.72 228.06L98.63 228.06L99.58 229.71L100.53 228.06L102.44 228.06L101.48 226.41L102.44 224.76L100.53 224.76ZM102.80 226.10L101.85 227.75L99.94 227.75L100.90 229.40L99.94 231.05L101.85 231.05L102.80 232.70L103.75 231.05L105.66 231.05L104.70 229.40L105.66 227.75L103.75 227.75ZM106.02 228.85L105.07 230.50L103.17 230.50L104.12 232.15L103.17 233.80L105.07 233.79L106.02 235.45L106.98 233.79L108.88 233.80L107.93 232.15L108.88 230.50L106.98 230.50ZM109.25 231.34L108.30 232.99L106.39 232.99L107.34 234.64L106.39 236.29L108.30 236.29L109.25 237.94L110.20 236.29L112.11 236.29L111.15 234.64L112.11 232.99L110.20 232.99ZM112.47 233.58L111.52 235.23L109.61 235.23L110.57 236.88L109.61 238.53L111.52 238.53L112.47 240.18L113.42 238.53L115.33 238.53L114.38 236.88L115.33 235.23L113.42 235.23ZM115.70 235.57L114.74 237.22L112.84 237.22L113.79 238.87L112.84 240.52L114.74 240.52L115.70 242.17L116.65 240.52L118.55 240.52L117.60 238.87L118.55 237.22L116.65 237.22ZM118.92 237.30L117.97 238.95L116.06 238.95L117.01 240.60L116.06 242.25L117.97 242.25L118.92 243.90L119.87 242.25L121.78 242.25L120.82 240.60L121.78 238.95L119.87 238.95ZM122.14 238.78L121.19 240.43L119.28 240.43L120.24 242.08L119.28 243.73L121.19 243.73L122.14 245.38L123.09 243.73L125.00 243.73L124.05 242.08L125.00 240.43L123.09 240.43ZM125.37 240.01L124.41 241.66L122.51 241.66L123.46 243.31L122.51 244.96L124.41 244.96L125.37 246.61L126.32 244.96L128.22 244.96L127.27 243.31L128.22 241.66L126.32 241.66ZM128.59 240.98L127.64 242.63L125.73 242.63L126.69 244.28L125.73 245.93L127.64 245.93L128.59 247.58L129.54 245.93L131.45 245.93L130.49 244.28L131.45 242.63L129.54 242.63ZM131.81 241.69L130.86 243.34L128.96 243.34L129.91 244.99L128.96 246.64L130.86 246.64L131.81 248.29L132.77 246.64L134.67 246.64L133.72 244.99L134.67 243.34L132.77 243.34ZM135.04 242.15L134.08 243.80L132.18 243.80L133.13 245.45L132.18 247.10L134.08 247.09L135.04 248.75L135.99 247.09L137.89 247.10L136.94 245.45L137.89 243.80L135.99 243.80ZM138.26 242.36L137.31 244.01L135.40 244.01L136.36 245.66L135.40 247.31L137.31 247.31L138.26 248.96L139.21 247.31L141.12 247.31L140.16 245.66L141.12 244.01L139.21 244.01ZM141.48 242.33L140.53 243.98L138.63 243.98L139.58 245.63L138.63 247.28L140.53 247.28L141.48 248.93L142.44 247.28L144.34 247.28L143.39 245.63L144.34 243.98L142.44 243.98ZM144.71 242.08L143.76 243.74L141.85 243.73L142.80 245.38L141.85 247.03L143.76 247.03L144.71 248.68L145.66 247.03L147.57 247.03L146.61 245.38L147.57 243.73L145.66 243.74ZM147.93 241.62L146.98 243.27L145.07 243.27L146.03 244.92L145.07 246.57L146.98 246.57L147.93 248.22L148.88 246.57L150.79 246.57L149.83 244.92L150.79 243.27L148.88 243.27ZM151.15 240.96L150.20 242.61L148.30 242.61L149.25 244.26L148.30 245.91L150.20 245.91L151.15 247.56L152.11 245.91L154.01 245.91L153.06 244.26L154.01 242.61L152.11 242.61ZM154.38 240.10L153.43 241.75L151.52 241.75L152.47 243.40L151.52 245.05L153.43 245.05L154.38 246.70L155.33 245.05L157.24 245.05L156.28 243.40L157.24 241.75L155.33 241.75ZM157.60 239.06L156.65 240.71L154.74 240.71L155.70 242.36L154.74 244.01L156.65 244.01L157.60 245.66L158.55 244.01L160.46 244.01L159.51 242.36L160.46 240.71L158.55 240.71ZM160.83 237.85L159.87 239.50L157.97 239.50L158.92 241.15L157.97 242.80L159.87 242.80L160.83 244.45L161.78 242.80L163.68 242.80L162.73 241.15L163.68 239.50L161.78 239.50ZM164.05 236.48L163.10 238.13L161.19 238.13L162.14 239.78L161.19 241.43L163.10 241.42L164.05 243.08L165.00 241.42L166.91 241.43L165.95 239.78L166.91 238.13L165.00 238.13ZM167.27 234.95L166.32 236.60L164.41 236.60L165.37 238.25L164.41 239.90L166.32 239.90L167.27 241.55L168.22 239.90L170.13 239.90L169.18 238.25L170.13 236.60L168.22 236.60ZM170.50 233.29L169.54 234.94L167.64 234.94L168.59 236.59L167.64 238.24L169.54 238.24L170.50 239.89L171.45 238.24L173.35 238.24L172.40 236.59L173.35 234.94L171.45 234.94ZM173.72 231.50L172.77 233.15L170.86 233.15L171.82 234.80L170.86 236.45L172.77 236.45L173.72 238.10L174.67 236.45L176.58 236.45L175.62 234.80L176.58 233.15L174.67 233.15ZM176.94 229.58L175.99 231.24L174.09 231.23L175.04 232.88L174.09 234.53L175.99 234.53L176.94 236.18L177.90 234.53L179.80 234.53L178.85 232.88L179.80 231.23L177.90 231.24ZM180.17 227.56L179.21 229.22L177.31 229.21L178.26 230.86L177.31 232.51L179.21 232.51L180.17 234.16L181.12 232.51L183.02 232.51L182.07 230.86L183.02 229.21L181.12 229.22ZM183.39 225.45L182.44 227.10L180.53 227.10L181.49 228.75L180.53 230.40L182.44 230.40L183.39 232.05L184.34 230.40L186.25 230.40L185.29 228.75L186.25 227.10L184.34 227.10ZM186.61 223.24L185.66 224.89L183.76 224.89L184.71 226.54L183.76 228.19L185.66 228.19L186.61 229.84L187.57 228.19L189.47 228.19L188.52 226.54L189.47 224.89L187.57 224.89ZM189.84 220.96L188.89 222.61L186.98 222.61L187.93 224.26L186.98 225.91L188.89 225.91L189.84 227.56L190.79 225.91L192.70 225.91L191.74 224.26L192.70 222.61L190.79 222.61ZM193.06 218.61L192.11 220.26L190.20 220.26L191.16 221.91L190.20 223.56L192.11 223.56L193.06 225.21L194.01 223.56L195.92 223.56L194.97 221.91L195.92 220.26L194.01 220.26ZM196.28 216.23L195.33 217.88L193.43 217.88L194.38 219.53L193.43 221.18L195.33 221.18L196.28 222.83L197.24 221.18L199.14 221.18L198.19 219.53L199.14 217.88L197.24 217.88ZM199.51 213.86L198.56 215.52L196.65 215.51L197.60 217.16L196.65 218.81L198.56 218.81L199.51 220.46L200.46 218.81L202.37 218.81L201.41 217.16L202.37 215.51L200.46 215.52ZM202.73 211.56L201.78 213.21L199.87 213.21L200.83 214.86L199.87 216.51L201.78 216.50L202.73 218.16L203.68 216.50L205.59 216.51L204.64 214.86L205.59 213.21L203.68 213.21ZM205.96 209.35L205.00 211.00L203.10 211.00L204.05 212.65L203.10 214.30L205.00 214.30L205.96 215.95L206.91 214.30L208.81 214.30L207.86 212.65L208.81 211.00L206.91 211.00ZM209.18 207.30L208.23 208.95L206.32 208.95L207.27 210.60L206.32 212.25L208.23 212.24L209.18 213.90L210.13 212.24L212.04 212.25L211.08 210.60L212.04 208.95L210.13 208.95ZM212.40 205.43L211.45 207.09L209.54 207.08L210.50 208.73L209.54 210.38L211.45 210.38L212.40 212.03L213.35 210.38L215.26 210.38L214.31 208.73L215.26 207.08L213.35 207.09ZM215.63 203.81L214.67 205.46L212.77 205.46L213.72 207.11L212.77 208.76L214.67 208.76L215.63 210.41L216.58 208.76L218.48 208.76L217.53 207.11L218.48 205.46L216.58 205.46ZM218.85 202.48L217.90 204.13L215.99 204.13L216.95 205.78L215.99 207.43L217.90 207.42L218.85 209.08L219.80 207.42L221.71 207.43L220.75 205.78L221.71 204.13L219.80 204.13ZM222.07 201.44L221.12 203.09L219.22 203.09L220.17 204.74L219.22 206.39L221.12 206.38L222.07 208.04L223.03 206.38L224.93 206.39L223.98 204.74L224.93 203.09L223.03 203.09ZM225.30 200.68L224.34 202.33L222.44 202.33L223.39 203.98L222.44 205.63L224.34 205.63L225.30 207.28L226.25 205.63L228.15 205.63L227.20 203.98L228.15 202.33L226.25 202.33ZM228.52 200.21L227.57 201.86L225.66 201.86L226.62 203.51L225.66 205.16L227.57 205.16L228.52 206.81L229.47 205.16L231.38 205.16L230.42 203.51L231.38 201.86L229.47 201.86ZM231.74 200.00L230.79 201.65L228.89 201.65L229.84 203.30L228.89 204.95L230.79 204.95L231.74 206.60L232.70 204.95L234.60 204.95L233.65 203.30L234.60 201.65L232.70 201.65ZM234.97 200.05L234.02 201.70L232.11 201.70L233.06 203.35L232.11 205.00L234.02 205.00L234.97 206.65L235.92 205.00L237.83 205.00L236.87 203.35L237.83 201.70L235.92 201.70ZM238.19 200.34L237.24 201.99L235.33 201.99L236.29 203.64L235.33 205.29L237.24 205.29L238.19 206.94L239.14 205.29L241.05 205.29L240.10 203.64L241.05 201.99L239.14 201.99ZM241.41 200.87L240.46 202.52L238.56 202.52L239.51 204.17L238.56 205.82L240.46 205.82L241.41 207.47L242.37 205.82L244.27 205.82L243.32 204.17L244.27 202.52L242.37 202.52ZM244.64 201.62L243.69 203.27L241.78 203.27L242.73 204.92L241.78 206.57L243.69 206.56L244.64 208.22L245.59 206.56L247.50 206.57L246.54 204.92L247.50 203.27L245.59 203.27ZM247.86 202.57L246.91 204.22L245.00 204.22L245.96 205.87L245.00 207.52L246.91 207.52L247.86 209.17L248.81 207.52L250.72 207.52L249.77 205.87L250.72 204.22L248.81 204.22ZM251.09 203.72L250.13 205.37L248.23 205.37L249.18 207.02L248.23 208.67L250.13 208.67L251.09 210.32L252.04 208.67L253.94 208.67L252.99 207.02L253.94 205.37L252.04 205.37ZM254.31 205.06L253.36 206.71L251.45 206.71L252.40 208.36L251.45 210.01L253.36 210.01L254.31 211.66L255.26 210.01L257.17 210.01L256.21 208.36L257.17 206.71L255.26 206.71ZM257.53 206.56L256.58 208.21L254.67 208.21L255.63 209.86L254.67 211.51L256.58 211.51L257.53 213.16L258.48 211.51L260.39 211.51L259.44 209.86L260.39 208.21L258.48 208.21ZM260.76 208.23L259.80 209.88L257.90 209.88L258.85 211.53L257.90 213.18L259.80 213.18L260.76 214.83L261.71 213.18L263.61 213.18L262.66 211.53L263.61 209.88L261.71 209.88ZM263.98 210.03L263.03 211.69L261.12 211.68L262.08 213.33L261.12 214.98L263.03 214.98L263.98 216.63L264.93 214.98L266.84 214.98L265.88 213.33L266.84 211.68L264.93 211.69ZM267.20 211.97L266.25 213.62L264.35 213.62L265.30 215.27L264.35 216.92L266.25 216.92L267.20 218.57L268.16 216.92L270.06 216.92L269.11 215.27L270.06 213.62L268.16 213.62ZM270.43 214.01L269.47 215.66L267.57 215.66L268.52 217.31L267.57 218.96L269.47 218.96L270.43 220.61L271.38 218.96L273.28 218.96L272.33 217.31L273.28 215.66L271.38 215.66ZM273.65 216.13L272.70 217.78L270.79 217.78L271.75 219.43L270.79 221.08L272.70 221.08L273.65 222.73L274.60 221.08L276.51 221.08L275.55 219.43L276.51 217.78L274.60 217.78ZM276.87 218.30L275.92 219.95L274.02 219.95L274.97 221.60L274.02 223.25L275.92 223.25L276.87 224.90L277.83 223.25L279.73 223.25L278.78 221.60L279.73 219.95L277.83 219.95ZM280.10 220.50L279.15 222.15L277.24 222.15L278.19 223.80L277.24 225.45L279.15 225.45L280.10 227.10L281.05 225.45L282.96 225.45L282.00 223.80L282.96 222.15L281.05 222.15ZM283.32 222.69L282.37 224.35L280.46 224.34L281.42 225.99L280.46 227.64L282.37 227.64L283.32 229.29L284.27 227.64L286.18 227.64L285.23 225.99L286.18 224.34L284.27 224.35ZM286.54 224.86L285.59 226.51L283.69 226.51L284.64 228.16L283.69 229.81L285.59 229.81L286.54 231.46L287.50 229.81L289.40 229.81L288.45 228.16L289.40 226.51L287.50 226.51ZM289.77 226.98L288.82 228.63L286.91 228.63L287.86 230.28L286.91 231.93L288.82 231.92L289.77 233.58L290.72 231.92L292.63 231.93L291.67 230.28L292.63 228.63L290.72 228.63ZM292.99 229.01L292.04 230.66L290.13 230.66L291.09 232.31L290.13 233.96L292.04 233.96L292.99 235.61L293.94 233.96L295.85 233.96L294.90 232.31L295.85 230.66L293.94 230.66ZM296.22 230.95L295.26 232.61L293.36 232.60L294.31 234.25L293.36 235.90L295.26 235.90L296.22 237.55L297.17 235.90L299.07 235.90L298.12 234.25L299.07 232.60L297.17 232.61ZM299.44 232.80L298.49 234.45L296.58 234.45L297.53 236.10L296.58 237.75L298.49 237.75L299.44 239.40L300.39 237.75L302.30 237.75L301.34 236.10L302.30 234.45L300.39 234.45ZM302.66 234.55L301.71 236.20L299.80 236.20L300.76 237.85L299.80 239.50L301.71 239.49L302.66 241.15L303.61 239.49L305.52 239.50L304.57 237.85L305.52 236.20L303.61 236.20ZM305.89 236.18L304.93 237.83L303.03 237.83L303.98 239.48L303.03 241.13L304.93 241.13L305.89 242.78L306.84 241.13L308.74 241.13L307.79 239.48L308.74 237.83L306.84 237.83ZM309.11 237.70L308.16 239.35L306.25 239.35L307.21 241.00L306.25 242.65L308.16 242.65L309.11 244.30L310.06 242.65L311.97 242.65L311.01 241.00L311.97 239.35L310.06 239.35ZM312.33 239.10L311.38 240.75L309.48 240.75L310.43 242.40L309.48 244.05L311.38 244.05L312.33 245.70L313.29 244.05L315.19 244.05L314.24 242.40L315.19 240.75L313.29 240.75ZM315.56 240.37L314.60 242.02L312.70 242.02L313.65 243.67L312.70 245.32L314.60 245.32L315.56 246.97L316.51 245.32L318.41 245.32L317.46 243.67L318.41 242.02L316.51 242.02ZM318.78 241.51L317.83 243.16L315.92 243.16L316.88 244.81L315.92 246.46L317.83 246.46L318.78 248.11L319.73 246.46L321.64 246.46L320.68 244.81L321.64 243.16L319.73 243.16ZM322.00 242.51L321.05 244.16L319.15 244.16L320.10 245.81L319.15 247.46L321.05 247.46L322.00 249.11L322.96 247.46L324.86 247.46L323.91 245.81L324.86 244.16L322.96 244.16ZM325.23 243.36L324.28 245.01L322.37 245.01L323.32 246.66L322.37 248.31L324.28 248.31L325.23 249.96L326.18 248.31L328.09 248.31L327.13 246.66L328.09 245.01L326.18 245.01ZM328.45 244.07L327.50 245.72L325.59 245.72L326.55 247.37L325.59 249.02L327.50 249.02L328.45 250.67L329.40 249.02L331.31 249.02L330.36 247.37L331.31 245.72L329.40 245.72ZM331.67 244.61L330.72 246.26L328.82 246.26L329.77 247.91L328.82 249.56L330.72 249.56L331.67 251.21L332.63 249.56L334.53 249.56L333.58 247.91L334.53 246.26L332.63 246.26ZM334.90 245.00L333.95 246.65L332.04 246.65L332.99 248.30L332.04 249.95L333.95 249.94L334.90 251.60L335.85 249.94L337.76 249.95L336.80 248.30L337.76 246.65L335.85 246.65ZM338.12 245.21L337.17 246.86L335.26 246.86L336.22 248.51L335.26 250.16L337.17 250.16L338.12 251.81L339.07 250.16L340.98 250.16L340.03 248.51L340.98 246.86L339.07 246.86ZM341.35 245.25L340.39 246.90L338.49 246.90L339.44 248.55L338.49 250.20L340.39 250.20L341.35 251.85L342.30 250.20L344.20 250.20L343.25 248.55L344.20 246.90L342.30 246.90ZM344.57 245.10L343.62 246.76L341.71 246.75L342.67 248.40L341.71 250.05L343.62 250.05L344.57 251.70L345.52 250.05L347.43 250.05L346.47 248.40L347.43 246.75L345.52 246.76ZM347.79 244.77L346.84 246.42L344.93 246.42L345.89 248.07L344.93 249.72L346.84 249.72L347.79 251.37L348.74 249.72L350.65 249.72L349.70 248.07L350.65 246.42L348.74 246.42ZM351.02 244.25L350.06 245.90L348.16 245.90L349.11 247.55L348.16 249.20L350.06 249.20L351.02 250.85L351.97 249.20L353.87 249.20L352.92 247.55L353.87 245.90L351.97 245.90ZM354.24 243.54L353.29 245.19L351.38 245.19L352.34 246.84L351.38 248.49L353.29 248.49L354.24 250.14L355.19 248.49L357.10 248.49L356.14 246.84L357.10 245.19L355.19 245.19ZM357.46 242.66L356.51 244.31L354.61 244.31L355.56 245.96L354.61 247.61L356.51 247.61L357.46 249.26L358.42 247.61L360.32 247.61L359.37 245.96L360.32 244.31L358.42 244.31ZM360.69 241.64L359.73 243.29L357.83 243.29L358.78 244.94L357.83 246.59L359.73 246.59L360.69 248.24L361.64 246.59L363.54 246.59L362.59 244.94L363.54 243.29L361.64 243.29ZM363.91 240.49L362.96 242.14L361.05 242.14L362.01 243.79L361.05 245.44L362.96 245.44L363.91 247.09L364.86 245.44L366.77 245.44L365.81 243.79L366.77 242.14L364.86 242.14ZM367.13 239.23L366.18 240.88L364.28 240.88L365.23 242.53L364.28 244.18L366.18 244.18L367.13 245.83L368.09 244.18L369.99 244.18L369.04 242.53L369.99 240.88L368.09 240.88ZM370.36 237.88L369.41 239.53L367.50 239.53L368.45 241.18L367.50 242.83L369.41 242.83L370.36 244.48L371.31 242.83L373.22 242.83L372.26 241.18L373.22 239.53L371.31 239.53ZM373.58 236.46L372.63 238.11L370.72 238.11L371.68 239.76L370.72 241.41L372.63 241.41L373.58 243.06L374.53 241.41L376.44 241.41L375.49 239.76L376.44 238.11L374.53 238.11ZM376.80 235.00L375.85 236.65L373.95 236.65L374.90 238.30L373.95 239.95L375.85 239.95L376.80 241.60L377.76 239.95L379.66 239.95L378.71 238.30L379.66 236.65L377.76 236.65ZM380.03 233.50L379.08 235.16L377.17 235.15L378.12 236.80L377.17 238.45L379.08 238.45L380.03 240.10L380.98 238.45L382.89 238.45L381.93 236.80L382.89 235.15L380.98 235.16ZM383.25 232.00L382.30 233.65L380.39 233.65L381.35 235.30L380.39 236.95L382.30 236.95L383.25 238.60L384.20 236.95L386.11 236.95L385.16 235.30L386.11 233.65L384.20 233.65ZM386.48 230.51L385.52 232.16L383.62 232.16L384.57 233.81L383.62 235.46L385.52 235.46L386.48 237.11L387.43 235.46L389.33 235.46L388.38 233.81L389.33 232.16L387.43 232.16ZM389.70 229.05L388.75 230.70L386.84 230.70L387.80 232.35L386.84 234.00L388.75 234.00L389.70 235.65L390.65 234.00L392.56 234.00L391.60 232.35L392.56 230.70L390.65 230.70ZM392.92 227.64L391.97 229.29L390.06 229.29L391.02 230.94L390.06 232.59L391.97 232.59L392.92 234.24L393.87 232.59L395.78 232.59L394.83 230.94L395.78 229.29L393.87 229.29ZM396.15 226.30L395.19 227.96L393.29 227.95L394.24 229.60L393.29 231.25L395.19 231.25L396.15 232.90L397.10 231.25L399.00 231.25L398.05 229.60L399.00 227.95L397.10 227.96ZM399.37 225.06L398.42 226.71L396.51 226.71L397.47 228.36L396.51 230.01L398.42 230.01L399.37 231.66L400.32 230.01L402.23 230.01L401.27 228.36L402.23 226.71L400.32 226.71ZM402.59 223.92L401.64 225.57L399.74 225.57L400.69 227.22L399.74 228.87L401.64 228.87L402.59 230.52L403.55 228.87L405.45 228.87L404.50 227.22L405.45 225.57L403.55 225.57ZM405.82 222.90L404.87 224.56L402.96 224.55L403.91 226.20L402.96 227.85L404.87 227.85L405.82 229.50L406.77 227.85L408.67 227.85L407.72 226.20L408.67 224.55L406.77 224.56ZM409.04 222.01L408.09 223.67L406.18 223.66L407.14 225.31L406.18 226.96L408.09 226.96L409.04 228.61L409.99 226.96L411.90 226.96L410.94 225.31L411.90 223.66L409.99 223.67ZM412.26 221.25L411.31 222.90L409.41 222.90L410.36 224.55L409.41 226.20L411.31 226.20L412.26 227.85L413.22 226.20L415.12 226.20L414.17 224.55L415.12 222.90L413.22 222.90ZM415.49 220.61L414.54 222.26L412.63 222.26L413.58 223.91L412.63 225.56L414.54 225.56L415.49 227.21L416.44 225.56L418.35 225.56L417.39 223.91L418.35 222.26L416.44 222.26ZM418.71 220.09L417.76 221.74L415.85 221.74L416.81 223.39L415.85 225.04L417.76 225.04L418.71 226.69L419.66 225.04L421.57 225.04L420.62 223.39L421.57 221.74L419.66 221.74ZM421.93 219.71L420.98 221.36L419.08 221.36L420.03 223.01L419.08 224.66L420.98 224.65L421.93 226.31L422.89 224.65L424.79 224.66L423.84 223.01L424.79 221.36L422.89 221.36ZM425.16 219.45L424.21 221.10L422.30 221.10L423.25 222.75L422.30 224.40L424.21 224.39L425.16 226.05L426.11 224.39L428.02 224.40L427.06 222.75L428.02 221.10L426.11 221.10ZM428.38 219.31L427.43 220.96L425.52 220.96L426.48 222.61L425.52 224.26L427.43 224.26L428.38 225.91L429.33 224.26L431.24 224.26L430.29 222.61L431.24 220.96L429.33 220.96ZM431.61 219.31L430.65 220.96L428.75 220.96L429.70 222.61L428.75 224.26L430.65 224.26L431.61 225.91L432.56 224.26L434.46 224.26L433.51 222.61L434.46 220.96L432.56 220.96ZM434.83 219.43L433.88 221.08L431.97 221.08L432.93 222.73L431.97 224.38L433.88 224.38L434.83 226.03L435.78 224.38L437.69 224.38L436.73 222.73L437.69 221.08L435.78 221.08ZM438.05 219.69L437.10 221.34L435.19 221.34L436.15 222.99L435.19 224.64L437.10 224.64L438.05 226.29L439.00 224.64L440.91 224.64L439.96 222.99L440.91 221.34L439.00 221.34ZM441.28 220.07L440.32 221.72L438.42 221.72L439.37 223.37L438.42 225.02L440.32 225.02L441.28 226.67L442.23 225.02L444.13 225.02L443.18 223.37L444.13 221.72L442.23 221.72ZM444.50 220.59L443.55 222.24L441.64 222.24L442.60 223.89L441.64 225.54L443.55 225.54L444.50 227.19L445.45 225.54L447.36 225.54L446.40 223.89L447.36 222.24L445.45 222.24Z"/>
<path d="M510.50,326.60 L518.60,324.10 L525.70,322.20 L536.00,319.90 L548.00,317.60 L549.43,316.90 L553.24,315.41 L556.91,313.92 L560.44,312.43 L563.83,310.94 L567.08,309.46 L570.20,307.97 L573.19,306.48 L576.06,304.99 L578.81,303.50 L581.45,302.01 L583.98,300.52 L586.41,299.03 L588.74,297.54 L590.99,296.05 L593.16,294.57 L595.25,293.08 L597.27,291.59 L599.23,290.10 L601.13,288.61 L602.97,287.12 L604.77,285.63 L606.51,284.14 L608.22,282.65 L609.88,281.17 L611.50,279.68 L613.08,278.19 L614.63,276.70 L616.13,275.21 L617.59,273.72 L619.01,272.23 L620.38,270.74 L621.72,269.25 L623.01,267.76 L624.26,266.28 L625.46,264.79 L626.63,263.30 L627.76,261.81 L628.85,260.32 L629.91,258.83 L630.94,257.34 L631.94,255.85 L632.91,254.36 L633.86,252.88 L634.79,251.39 L635.70,249.90 L636.59,248.41 L637.47,246.92 L638.33,245.43 L639.17,243.94 L640.00,242.45 L640.81,240.96 L641.60,239.47 L642.37,237.99 L643.12,236.50 L643.86,235.01 L644.57,233.52 L645.27,232.03 L645.94,230.54 L646.58,229.05 L647.19,227.56 L647.78,226.07 L648.34,224.59 L648.88,223.10 L649.39,221.61 L649.88,220.12 L650.35,218.63 L650.79,217.14 L651.21,215.65 L651.60,214.16 L651.98,212.67 L652.33,211.18 L652.66,209.70 L652.97,208.21 L653.26,206.72 L653.53,205.23 L653.78,203.74 L654.02,202.25 L654.23,200.76 L654.43,199.27 L654.61,197.78 L654.78,196.30 L654.93,194.81 L655.06,193.32 L655.18,191.83 L655.28,190.34 L655.37,188.85 L655.45,187.36 L655.51,185.87 L655.56,184.38 L655.60,182.89 L655.63,181.41 L655.65,179.92 L655.66,178.43 L655.66,176.94 L655.65,175.45 L655.63,173.96 L655.60,172.47 L655.56,170.98 L655.52,169.49 L655.47,168.01 L655.41,166.52 L655.35,165.03 L655.29,163.54 L655.22,162.05 L655.14,160.56 L655.06,159.07 L654.98,157.58 L654.90,156.09 L654.81,154.61 L654.72,153.12 L654.63,151.63 L654.54,150.14 L654.46,148.65 L654.38,147.16 L654.30,145.67 L654.22,144.18 L654.14,142.69 L654.05,141.20 L653.97,139.72 L653.88,138.23 L653.79,136.74 L653.70,135.25 L653.60,133.76 L653.51,132.27 L653.41,130.78 L653.31,129.29 L653.21,127.80 L653.11,126.32 L653.01,124.83 L652.91,123.34 L652.80,121.85 L652.70,120.36 L652.59,118.87 L652.49,117.38 L652.38,115.89 L652.27,114.40 L652.16,112.91 L652.05,111.43 L651.94,109.94 L651.83,108.45 L651.72,106.96 L651.61,105.47 L651.50,103.98 L651.39,102.49 L651.28,101.00 L651.17,99.51 L651.06,98.03 L650.95,96.54 L650.84,95.05 L650.73,93.56 L650.62,92.07 L650.51,90.58 L650.41,89.09 L650.30,87.60 L650.19,86.11 L650.09,84.62 L649.98,83.14 L649.88,81.65 L649.78,80.16 L649.67,78.67 L649.57,77.18 L649.48,75.69 L649.38,74.20 L649.28,72.71 L649.19,71.22 L649.09,69.74 L649.00,68.25 L648.91,66.76 L648.83,65.27 L648.74,63.78 L648.66,62.29 L648.57,60.80 L648.49,59.31 L648.42,57.82 L648.34,56.33 L648.27,54.85 L648.20,53.36 L648.13,51.87 L648.06,50.38 L648.00,48.89 L647.94,47.40 L647.88,45.91 L647.83,44.42 L647.77,42.93 L647.73,41.45 L647.68,39.96 L647.64,38.47 L647.60,36.98 L647.56,35.49 L647.53,34.00 L647.50,32.51 L647.47,31.02 L647.45,29.53 L647.43,28.04 L647.42,26.56 L647.41,25.07 L647.40,23.58 L647.40,22.09 L647.40,20.60" fill="none" stroke="#0000ff" stroke-width="1.2" stroke-dasharray="4 3.4"/>
<path d="M515.10,327.60 L529.20,321.30 L536.30,319.60 L548.00,316.90 L549.03,316.90 L552.84,315.41 L556.51,313.92 L560.04,312.43 L563.43,310.94 L566.68,309.46 L569.80,307.97 L572.79,306.48 L575.66,304.99 L578.41,303.50 L581.05,302.01 L583.58,300.52 L586.01,299.03 L588.34,297.54 L590.59,296.05 L592.76,294.57 L594.85,293.08 L596.87,291.59 L598.83,290.10 L600.73,288.61 L602.57,287.12 L604.37,285.63 L606.11,284.14 L607.82,282.65 L609.48,281.17 L611.10,279.68 L612.68,278.19 L614.23,276.70 L615.73,275.21 L617.19,273.72 L618.61,272.23 L619.98,270.74 L621.32,269.25 L622.61,267.76 L623.86,266.28 L625.06,264.79 L626.23,263.30 L627.36,261.81 L628.45,260.32 L629.51,258.83 L630.54,257.34 L631.54,255.85 L632.51,254.36 L633.46,252.88 L634.39,251.39 L635.30,249.90 L636.19,248.41 L637.07,246.92 L637.93,245.43 L638.77,243.94 L639.60,242.45 L640.41,240.96 L641.20,239.47 L641.97,237.99 L642.72,236.50 L643.46,235.01 L644.17,233.52 L644.87,232.03 L645.54,230.54 L646.20,229.05 L646.83,227.56 L647.43,226.07 L648.02,224.59 L648.58,223.10 L649.12,221.61 L649.63,220.12 L650.12,218.63 L650.58,217.14 L651.02,215.65 L651.44,214.16 L651.84,212.67 L652.21,211.18 L652.56,209.70 L652.90,208.21 L653.21,206.72 L653.50,205.23 L653.78,203.74 L654.03,202.25 L654.27,200.76 L654.49,199.27 L654.70,197.78 L654.88,196.30 L655.05,194.81 L655.21,193.32 L655.35,191.83 L655.48,190.34 L655.59,188.85 L655.69,187.36 L655.77,185.87 L655.85,184.38 L655.91,182.89 L655.96,181.41 L656.00,179.92 L656.03,178.43 L656.05,176.94 L656.06,175.45 L656.07,173.96 L656.06,172.47 L656.05,170.98 L656.03,169.49 L656.00,168.01 L655.97,166.52 L655.93,165.03 L655.88,163.54 L655.84,162.05 L655.78,160.56 L655.73,159.07 L655.67,157.58 L655.61,156.09 L655.54,154.61 L655.47,153.12 L655.40,151.63 L655.33,150.14 L655.26,148.65 L655.18,147.16 L655.10,145.67 L655.02,144.18 L654.94,142.69 L654.85,141.20 L654.77,139.72 L654.68,138.23 L654.59,136.74 L654.50,135.25 L654.40,133.76 L654.31,132.27 L654.21,130.78 L654.11,129.29 L654.01,127.80 L653.91,126.32 L653.81,124.83 L653.71,123.34 L653.60,121.85 L653.50,120.36 L653.39,118.87 L653.29,117.38 L653.18,115.89 L653.07,114.40 L652.96,112.91 L652.85,111.43 L652.74,109.94 L652.63,108.45 L652.52,106.96 L652.41,105.47 L652.30,103.98 L652.19,102.49 L652.08,101.00 L651.97,99.51 L651.86,98.03 L651.75,96.54 L651.64,95.05 L651.53,93.56 L651.42,92.07 L651.31,90.58 L651.21,89.09 L651.10,87.60 L650.99,86.11 L650.89,84.62 L650.78,83.14 L650.68,81.65 L650.58,80.16 L650.47,78.67 L650.37,77.18 L650.28,75.69 L650.18,74.20 L650.08,72.71 L649.99,71.22 L649.89,69.74 L649.80,68.25 L649.71,66.76 L649.63,65.27 L649.54,63.78 L649.46,62.29 L649.37,60.80 L649.29,59.31 L649.22,57.82 L649.14,56.33 L649.07,54.85 L649.00,53.36 L648.93,51.87 L648.86,50.38 L648.80,48.89 L648.74,47.40 L648.68,45.91 L648.63,44.42 L648.57,42.93 L648.53,41.45 L648.48,39.96 L648.44,38.47 L648.40,36.98 L648.36,35.49 L648.33,34.00 L648.30,32.51 L648.27,31.02 L648.25,29.53 L648.23,28.04 L648.22,26.56 L648.21,25.07 L648.20,23.58 L648.20,22.09 L648.20,20.60" fill="none" stroke="#ff00ff" stroke-width="1.1"/>
<path d="M522.80,327.80 L532.70,322.70 L543.30,318.30 L548.00,316.60 L548.83,316.90 L552.64,315.41 L556.31,313.92 L559.84,312.43 L563.23,310.94 L566.48,309.46 L569.60,307.97 L572.59,306.48 L575.46,304.99 L578.21,303.50 L580.85,302.01 L583.38,300.52 L585.81,299.03 L588.14,297.54 L590.39,296.05 L592.56,294.57 L594.65,293.08 L596.67,291.59 L598.63,290.10 L600.53,288.61 L602.37,287.12 L604.17,285.63 L605.91,284.14 L607.62,282.65 L609.28,281.17 L610.90,279.68 L612.48,278.19 L614.03,276.70 L615.53,275.21 L616.99,273.72 L618.41,272.23 L619.78,270.74 L621.12,269.25 L622.41,267.76 L623.66,266.28 L624.86,264.79 L626.03,263.30 L627.16,261.81 L628.25,260.32 L629.31,258.83 L630.34,257.34 L631.34,255.85 L632.31,254.36 L633.26,252.88 L634.19,251.39 L635.10,249.90 L635.99,248.41 L636.87,246.92 L637.73,245.43 L638.57,243.94 L639.40,242.45 L640.21,240.96 L641.00,239.47 L641.77,237.99 L642.52,236.50 L643.26,235.01 L643.97,233.52 L644.67,232.03 L645.34,230.54 L646.00,229.05 L646.63,227.56 L647.23,226.07 L647.82,224.59 L648.38,223.10 L648.92,221.61 L649.43,220.12 L649.92,218.63 L650.38,217.14 L650.82,215.65 L651.24,214.16 L651.64,212.67 L652.01,211.18 L652.36,209.70 L652.70,208.21 L653.01,206.72 L653.30,205.23 L653.58,203.74 L653.83,202.25 L654.07,200.76 L654.29,199.27 L654.50,197.78 L654.68,196.30 L654.85,194.81 L655.01,193.32 L655.15,191.83 L655.28,190.34 L655.39,188.85 L655.49,187.36 L655.57,185.87 L655.65,184.38 L655.71,182.89 L655.76,181.41 L655.80,179.92 L655.83,178.43 L655.85,176.94 L655.86,175.45 L655.87,173.96 L655.86,172.47 L655.85,170.98 L655.83,169.49 L655.80,168.01 L655.77,166.52 L655.73,165.03 L655.68,163.54 L655.64,162.05 L655.58,160.56 L655.53,159.07 L655.47,157.58 L655.41,156.09 L655.34,154.61 L655.27,153.12 L655.20,151.63 L655.13,150.14 L655.06,148.65 L654.98,147.16 L654.90,145.67 L654.82,144.18 L654.74,142.69 L654.65,141.20 L654.57,139.72 L654.48,138.23 L654.39,136.74 L654.30,135.25 L654.20,133.76 L654.11,132.27 L654.01,130.78 L653.91,129.29 L653.81,127.80 L653.71,126.32 L653.61,124.83 L653.51,123.34 L653.40,121.85 L653.30,120.36 L653.19,118.87 L653.09,117.38 L652.98,115.89 L652.87,114.40 L652.76,112.91 L652.65,111.43 L652.54,109.94 L652.43,108.45 L652.32,106.96 L652.21,105.47 L652.10,103.98 L651.99,102.49 L651.88,101.00 L651.77,99.51 L651.66,98.03 L651.55,96.54 L651.44,95.05 L651.33,93.56 L651.22,92.07 L651.11,90.58 L651.01,89.09 L650.90,87.60 L650.79,86.11 L650.69,84.62 L650.58,83.14 L650.48,81.65 L650.38,80.16 L650.27,78.67 L650.17,77.18 L650.08,75.69 L649.98,74.20 L649.88,72.71 L649.79,71.22 L649.69,69.74 L649.60,68.25 L649.51,66.76 L649.43,65.27 L649.34,63.78 L649.26,62.29 L649.17,60.80 L649.09,59.31 L649.02,57.82 L648.94,56.33 L648.87,54.85 L648.80,53.36 L648.73,51.87 L648.66,50.38 L648.60,48.89 L648.54,47.40 L648.48,45.91 L648.43,44.42 L648.37,42.93 L648.33,41.45 L648.28,39.96 L648.24,38.47 L648.20,36.98 L648.16,35.49 L648.13,34.00 L648.10,32.51 L648.07,31.02 L648.05,29.53 L648.03,28.04 L648.02,26.56 L648.01,25.07 L648.00,23.58 L648.00,22.09 L648.00,20.60" fill="none" stroke="#ff0000" stroke-width="1.3" stroke-dasharray="4.6 1.1 1.6 1.1"/>
<text x="45.20" y="333.00" font-size="13.80" text-anchor="end" textLength="17.12" lengthAdjust="spacingAndGlyphs">0.8</text><text x="45.20" y="294.17" font-size="13.80" text-anchor="end" textLength="23.97" lengthAdjust="spacingAndGlyphs">0.85</text><text x="45.20" y="255.34" font-size="13.80" text-anchor="end" textLength="17.12" lengthAdjust="spacingAndGlyphs">0.9</text><text x="45.20" y="216.51" font-size="13.80" text-anchor="end" textLength="23.97" lengthAdjust="spacingAndGlyphs">0.95</text><text x="45.20" y="177.68" font-size="13.80" text-anchor="end" textLength="6.85" lengthAdjust="spacingAndGlyphs">1</text><text x="45.20" y="138.86" font-size="13.80" text-anchor="end" textLength="23.97" lengthAdjust="spacingAndGlyphs">1.05</text><text x="45.20" y="100.03" font-size="13.80" text-anchor="end" textLength="17.12" lengthAdjust="spacingAndGlyphs">1.1</text><text x="45.20" y="61.20" font-size="13.80" text-anchor="end" textLength="23.97" lengthAdjust="spacingAndGlyphs">1.15</text><text x="45.20" y="22.37" font-size="13.80" text-anchor="end" textLength="17.12" lengthAdjust="spacingAndGlyphs">1.2</text><text x="48.00" y="343.50" font-size="13.80" text-anchor="middle" textLength="6.85" lengthAdjust="spacingAndGlyphs">0</text><text x="138.50" y="343.50" font-size="13.80" text-anchor="middle" textLength="6.85" lengthAdjust="spacingAndGlyphs">5</text><text x="229.00" y="343.50" font-size="13.80" text-anchor="middle" textLength="13.70" lengthAdjust="spacingAndGlyphs">10</text><text x="319.50" y="343.50" font-size="13.80" text-anchor="middle" textLength="13.70" lengthAdjust="spacingAndGlyphs">15</text><text x="410.00" y="343.50" font-size="13.80" text-anchor="middle" textLength="13.70" lengthAdjust="spacingAndGlyphs">20</text><text x="506.60" y="333.00" font-size="13.80" text-anchor="end" textLength="6.85" lengthAdjust="spacingAndGlyphs">0</text><text x="506.60" y="301.94" font-size="13.80" text-anchor="end" textLength="17.12" lengthAdjust="spacingAndGlyphs">0.1</text><text x="506.60" y="270.87" font-size="13.80" text-anchor="end" textLength="17.12" lengthAdjust="spacingAndGlyphs">0.2</text><text x="506.60" y="239.81" font-size="13.80" text-anchor="end" textLength="17.12" lengthAdjust="spacingAndGlyphs">0.3</text><text x="506.60" y="208.75" font-size="13.80" text-anchor="end" textLength="17.12" lengthAdjust="spacingAndGlyphs">0.4</text><text x="506.60" y="177.69" font-size="13.80" text-anchor="end" textLength="17.12" lengthAdjust="spacingAndGlyphs">0.5</text><text x="506.60" y="146.62" font-size="13.80" text-anchor="end" textLength="17.12" lengthAdjust="spacingAndGlyphs">0.6</text><text x="506.60" y="115.56" font-size="13.80" text-anchor="end" textLength="17.12" lengthAdjust="spacingAndGlyphs">0.7</text><text x="506.60" y="84.50" font-size="13.80" text-anchor="end" textLength="17.12" lengthAdjust="spacingAndGlyphs">0.8</text><text x="506.60" y="53.43" font-size="13.80" text-anchor="end" textLength="17.12" lengthAdjust="spacingAndGlyphs">0.9</text><text x="506.60" y="22.37" font-size="13.80" text-anchor="end" textLength="6.85" lengthAdjust="spacingAndGlyphs">1</text><text x="510.00" y="343.50" font-size="13.80" text-anchor="middle" textLength="17.12" lengthAdjust="spacingAndGlyphs">0.7</text><text x="544.50" y="343.50" font-size="13.80" text-anchor="middle" textLength="17.12" lengthAdjust="spacingAndGlyphs">0.8</text><text x="579.00" y="343.50" font-size="13.80" text-anchor="middle" textLength="17.12" lengthAdjust="spacingAndGlyphs">0.9</text><text x="613.50" y="343.50" font-size="13.80" text-anchor="middle" textLength="6.85" lengthAdjust="spacingAndGlyphs">1</text><text x="648.00" y="343.50" font-size="13.80" text-anchor="middle" textLength="17.12" lengthAdjust="spacingAndGlyphs">1.1</text>
<text x="238.30" y="13.80" font-size="16.00">(</text>
<text x="244.00" y="13.00" font-size="14.00">a</text>
<text x="251.00" y="13.80" font-size="16.00">)</text>
<text x="587.30" y="13.80" font-size="16.00">(</text>
<text x="592.90" y="13.00" font-size="14.00">b</text>
<text x="600.80" y="13.80" font-size="16.00">)</text>
<text x="224.60" y="361.00" font-size="15.00" class="i">&#952;</text>
<path d="M241.6,350.4 H239.6 V364.8 H241.6 M266.3,350.4 H268.3 V364.8 H266.3" stroke="#000" stroke-width="0.85" fill="none"/>
<text x="242.20" y="361.00" font-size="15.00" textLength="22.8" lengthAdjust="spacingAndGlyphs">deg</text>
<text x="578.50" y="362.40" font-size="16.20" class="i">U</text>
<path d="M597.6,349.9 L591.4,365.4" stroke="#000" stroke-width="0.95"/>
<text x="598.00" y="362.40" font-size="16.20" class="i">V</text>
<text x="607.80" y="364.80" font-size="11.80">0</text>
<g transform="translate(14.6,190.2) rotate(-90)">
<text x="0.00" y="0.00" font-size="15.50" class="i">h</text>
<path d="M9.3,3.3 L16.4,-12.5" stroke="#000" stroke-width="0.95"/>
<text x="16.40" y="0.00" font-size="15.50" class="i">h</text>
<text x="25.60" y="2.70" font-size="11.80">0</text>
</g>
<g transform="translate(483.6,189.4) rotate(-90)">
<text x="0.20" y="0.00" font-size="15.50" class="i">z</text>
<path d="M8.2,3.3 L15.8,-12.3" stroke="#000" stroke-width="0.95"/>
<text x="16.00" y="0.00" font-size="15.50" class="i">h</text>
<text x="25.00" y="2.70" font-size="11.80">0</text>
</g>
<rect x="123.5" y="267.5" width="313" height="51" fill="#fff" stroke="#262626" stroke-opacity="0.75" stroke-width="1"/>
<text x="143.50" y="280.30" font-size="12.60" textLength="32.00" lengthAdjust="spacingAndGlyphs">Outer</text>
<text x="181.30" y="280.30" font-size="12.60" textLength="22.00" lengthAdjust="spacingAndGlyphs">wall</text>
<text x="206.90" y="280.30" font-size="12.60" textLength="4.80" lengthAdjust="spacingAndGlyphs">-</text>
<text x="216.00" y="280.30" font-size="12.60" textLength="22.00" lengthAdjust="spacingAndGlyphs">Q70</text>
<rect x="237.60" y="280.00" width="3.60" height="0.8" fill="#000"/>
<text x="241.20" y="280.30" font-size="12.60" textLength="29.80" lengthAdjust="spacingAndGlyphs">6mm</text>
<text x="301.20" y="280.30" font-size="12.60" textLength="29.80" lengthAdjust="spacingAndGlyphs">Inner</text>
<text x="335.20" y="280.30" font-size="12.60" textLength="22.00" lengthAdjust="spacingAndGlyphs">wall</text>
<text x="362.00" y="280.30" font-size="12.60" textLength="4.80" lengthAdjust="spacingAndGlyphs">-</text>
<text x="370.80" y="280.30" font-size="12.60" textLength="22.00" lengthAdjust="spacingAndGlyphs">Q70</text>
<rect x="393.20" y="280.00" width="3.70" height="0.8" fill="#000"/>
<text x="396.80" y="280.30" font-size="12.60" textLength="28.60" lengthAdjust="spacingAndGlyphs">6mm</text>
<text x="143.50" y="296.30" font-size="12.60" textLength="32.00" lengthAdjust="spacingAndGlyphs">Outer</text>
<text x="181.30" y="296.30" font-size="12.60" textLength="22.00" lengthAdjust="spacingAndGlyphs">wall</text>
<text x="206.90" y="296.30" font-size="12.60" textLength="4.80" lengthAdjust="spacingAndGlyphs">-</text>
<text x="216.00" y="296.30" font-size="12.60" textLength="22.00" lengthAdjust="spacingAndGlyphs">Q70</text>
<rect x="237.60" y="296.00" width="3.60" height="0.8" fill="#000"/>
<text x="241.20" y="296.30" font-size="12.60" textLength="29.80" lengthAdjust="spacingAndGlyphs">8mm</text>
<text x="301.20" y="296.30" font-size="12.60" textLength="29.80" lengthAdjust="spacingAndGlyphs">Inner</text>
<text x="335.20" y="296.30" font-size="12.60" textLength="22.00" lengthAdjust="spacingAndGlyphs">wall</text>
<text x="362.00" y="296.30" font-size="12.60" textLength="4.80" lengthAdjust="spacingAndGlyphs">-</text>
<text x="370.80" y="296.30" font-size="12.60" textLength="22.00" lengthAdjust="spacingAndGlyphs">Q70</text>
<rect x="393.20" y="296.00" width="3.70" height="0.8" fill="#000"/>
<text x="396.80" y="296.30" font-size="12.60" textLength="28.60" lengthAdjust="spacingAndGlyphs">8mm</text>
<text x="143.50" y="312.30" font-size="12.60" textLength="32.00" lengthAdjust="spacingAndGlyphs">Outer</text>
<text x="181.30" y="312.30" font-size="12.60" textLength="22.00" lengthAdjust="spacingAndGlyphs">wall</text>
<text x="206.90" y="312.30" font-size="12.60" textLength="4.80" lengthAdjust="spacingAndGlyphs">-</text>
<text x="216.00" y="312.30" font-size="12.60" textLength="22.00" lengthAdjust="spacingAndGlyphs">Q70</text>
<rect x="237.60" y="312.00" width="3.60" height="0.8" fill="#000"/>
<text x="241.20" y="312.30" font-size="12.60" textLength="36.20" lengthAdjust="spacingAndGlyphs">10mm</text>
<text x="301.20" y="312.30" font-size="12.60" textLength="29.80" lengthAdjust="spacingAndGlyphs">Inner</text>
<text x="335.20" y="312.30" font-size="12.60" textLength="22.00" lengthAdjust="spacingAndGlyphs">wall</text>
<text x="362.00" y="312.30" font-size="12.60" textLength="4.80" lengthAdjust="spacingAndGlyphs">-</text>
<text x="370.80" y="312.30" font-size="12.60" textLength="22.00" lengthAdjust="spacingAndGlyphs">Q70</text>
<rect x="393.20" y="312.00" width="3.70" height="0.8" fill="#000"/>
<text x="396.80" y="312.30" font-size="12.60" textLength="35.00" lengthAdjust="spacingAndGlyphs">10mm</text>
<g fill="#0000ff" stroke="#0000ff" stroke-width="0.5"><path transform="translate(135.0,277.4) scale(1.13)" d="M-2.9,-3.3 L3.2,0 L-2.9,3.3Z"/></g>
<g fill="#ff00ff" stroke="#ff00ff" stroke-width="0.5"><path transform="translate(134.0,293.5) scale(1.1)" d="M-2.3,-2.3 H2.3 V2.3 H-2.3Z"/></g>
<g fill="#ff0000" stroke="#ff0000" stroke-width="0.5"><path transform="translate(133.9,309.2) scale(1.1)" d="M0.00,-2.85 L-0.82,-1.42 L-2.47,-1.43 L-1.64,-0.00 L-2.47,1.42 L-0.82,1.42 L-0.00,2.85 L0.82,1.42 L2.47,1.43 L1.64,0.00 L2.47,-1.43 L0.82,-1.42Z"/></g>
<g fill="none" stroke="#0000ff" stroke-width="0.8"><path transform="translate(293.0,277.4) scale(1.2)" d="M-3.1,-3.4 L3.4,0 L-3.1,3.4Z"/></g>
<g fill="none" stroke="#ff00ff" stroke-width="0.8"><path transform="translate(291.8,293.4) scale(1.12)" d="M-2.5,-2.5 H2.5 V2.5 H-2.5Z"/></g>
<g fill="none" stroke="#ff0000" stroke-width="0.8"><path transform="translate(291.8,309.2) scale(1.15)" d="M0.00,-3.30 L-0.95,-1.65 L-2.86,-1.65 L-1.90,-0.00 L-2.86,1.65 L-0.95,1.65 L-0.00,3.30 L0.95,1.65 L2.86,1.65 L1.90,0.00 L2.86,-1.65 L0.95,-1.65Z"/></g>
<rect x="520.5" y="148.5" width="98" height="51" fill="#fff" stroke="#262626" stroke-opacity="0.75" stroke-width="1"/>
<path d="M524.3,158.0H550" stroke="#0000ff" stroke-width="1" stroke-dasharray="4 3.4" fill="none"/>
<path d="M524.3,174.0H550" stroke="#ff00ff" stroke-width="1" fill="none"/>
<path d="M524.3,189.8H550" stroke="#ff0000" stroke-width="1" stroke-dasharray="3.8 1.2 1.5 1.2" fill="none"/>
<text x="553.20" y="161.00" font-size="12.60" textLength="22.30" lengthAdjust="spacingAndGlyphs">Q70</text>
<rect x="575.70" y="160.70" width="3.70" height="0.8" fill="#000"/>
<text x="579.30" y="161.00" font-size="12.60" textLength="28.90" lengthAdjust="spacingAndGlyphs">6mm</text>
<text x="553.20" y="177.00" font-size="12.60" textLength="22.30" lengthAdjust="spacingAndGlyphs">Q70</text>
<rect x="575.70" y="176.70" width="3.70" height="0.8" fill="#000"/>
<text x="579.30" y="177.00" font-size="12.60" textLength="28.90" lengthAdjust="spacingAndGlyphs">8mm</text>
<text x="553.20" y="192.80" font-size="12.60" textLength="22.30" lengthAdjust="spacingAndGlyphs">Q70</text>
<rect x="575.70" y="192.50" width="3.70" height="0.8" fill="#000"/>
<text x="579.30" y="192.80" font-size="12.60" textLength="35.00" lengthAdjust="spacingAndGlyphs">10mm</text>
</svg></body></html>
